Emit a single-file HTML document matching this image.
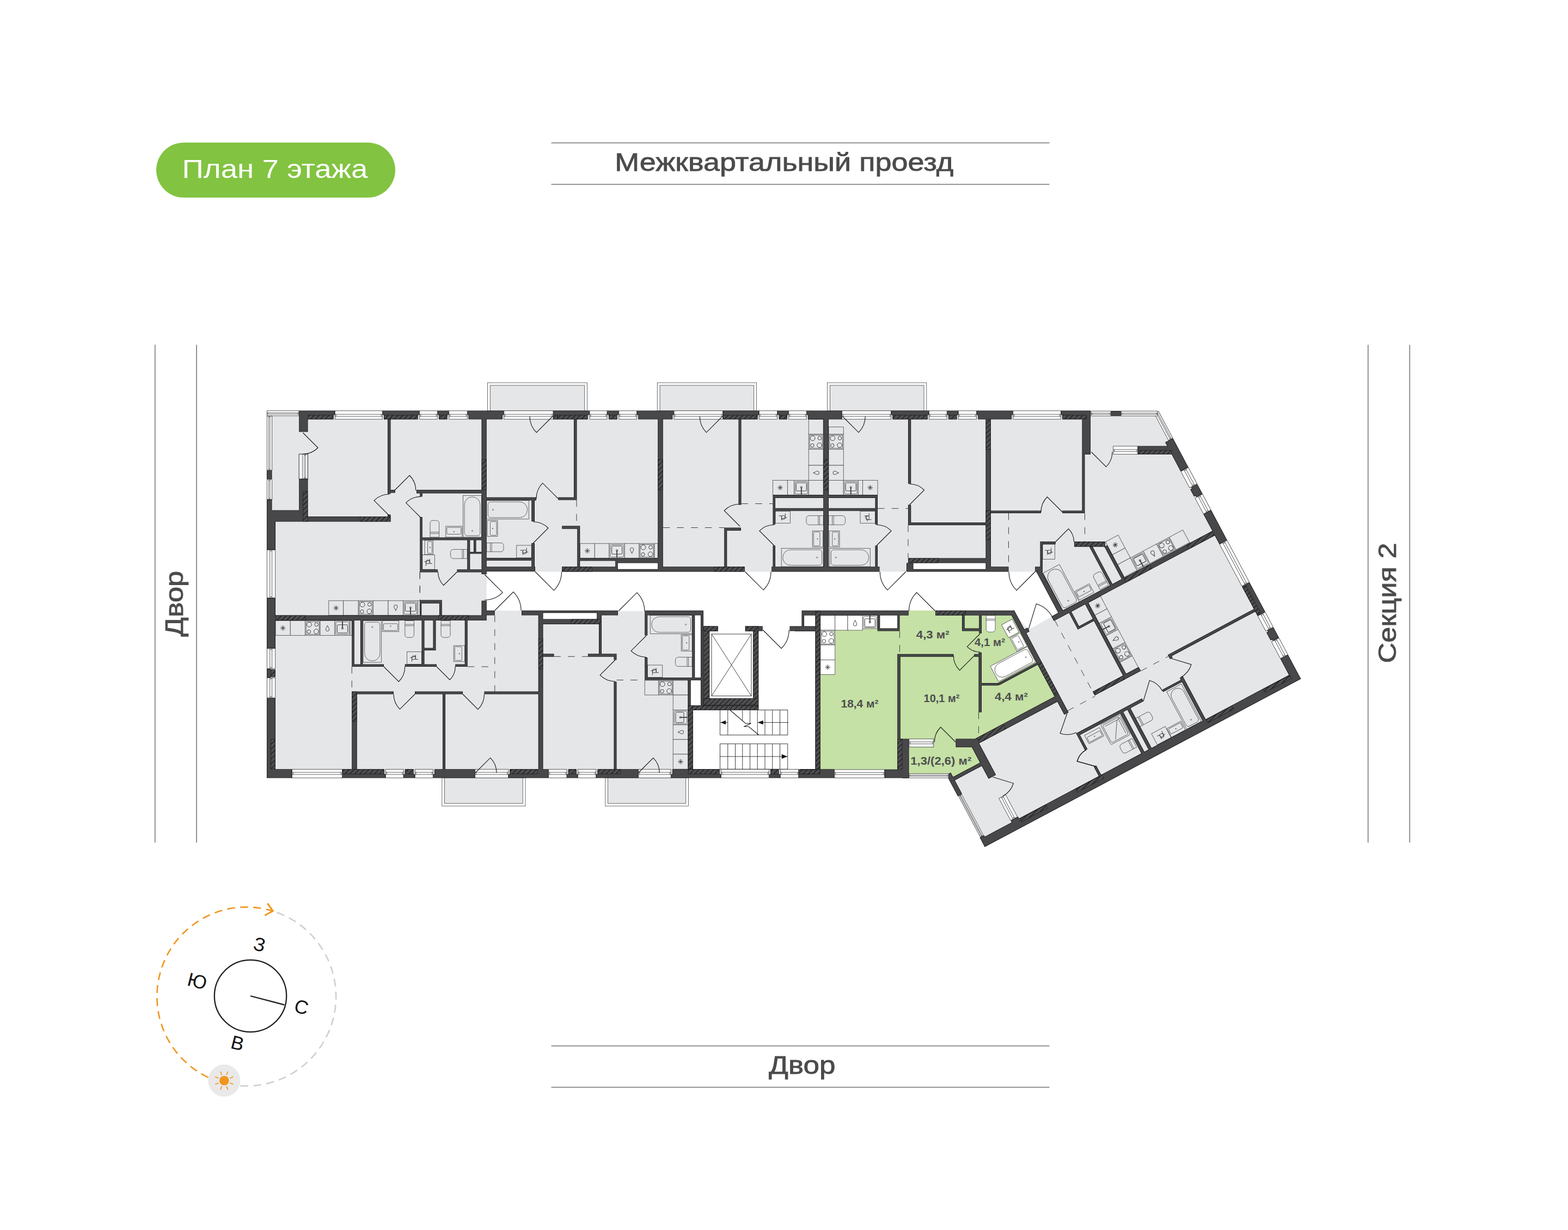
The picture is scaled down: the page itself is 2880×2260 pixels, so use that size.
<!DOCTYPE html>
<html lang="ru"><head><meta charset="utf-8"><title>План 7 этажа</title>
<style>html,body{margin:0;padding:0;background:#fff}body{width:2880px;height:2260px;overflow:hidden;font-family:"Liberation Sans",sans-serif}svg{display:block}text{font-family:"Liberation Sans",sans-serif}.lbl{fill:#4b4b4d;stroke:#4b4b4d;stroke-width:.8px;font-size:46px}.ln{stroke:#929292;stroke-width:2;fill:none}.w{fill:#48484a}.h{fill:url(#hp);stroke:#1c1c1e;stroke-width:.7}.r{fill:#e5e6e8}.g{fill:#c5e1a5}.wh{fill:#fff}.hw{fill:url(#hpw);stroke:#1c1c1e;stroke-width:.7}.wn2{fill:#fff;stroke:#5c5c5e;stroke-width:.9}.t{fill:none;stroke:#161618;stroke-width:1.1}.fx{fill:none;stroke:#48484a;stroke-width:.8}.fd{fill:#48484a}.sy{fill:none;stroke:#2e2e30;stroke-width:.9}.fxw{fill:#fff;stroke:#48484a;stroke-width:.8}.fxf{fill:#e5e6e8;stroke:#48484a;stroke-width:.8}.wn{fill:#fff;stroke:#2e2e30;stroke-width:1}.wl{fill:none;stroke:#2c2c2e;stroke-width:.75}.wo{fill:#fff;stroke:#2c2c2e;stroke-width:.75}.st{fill:none;stroke:#2a2a2c;stroke-width:.9}.ab{fill:#111;stroke:none}.ds{fill:none;stroke:#3c3c3e;stroke-width:1;stroke-dasharray:12.5 13.2}.ar{fill:#4d4d4f;font-size:20px;font-weight:bold}.cp{fill:#111;font-size:35px}</style></head><body>
<svg width="2880" height="2260" viewBox="0 0 2880 2260">
<defs><pattern id="hp" width="6.4" height="6.4" patternUnits="userSpaceOnUse" patternTransform="rotate(-45)"><rect width="6.4" height="6.4" fill="#4e4e50"/><rect width="6.4" height="1.05" fill="#0e0e10"/></pattern><pattern id="hpw" width="6.4" height="6.4" patternUnits="userSpaceOnUse" patternTransform="rotate(-17)"><rect width="6.4" height="6.4" fill="#4e4e50"/><rect width="6.4" height="1.05" fill="#0e0e10"/></pattern></defs>
<g id="L-fill">
<path class="r" d="M490 754.5L2128.75 754.5L2389.46 1247.48L1808.75 1556.25L1738.33 1423.81L1741 1429.5L490 1429.5Z"/>
<rect class="wn2" x="895.5" y="703.2" width="183" height="51.8"/>
<rect class="fxf" x="900.3" y="708" width="173.4" height="47"/>
<rect class="wn2" x="1207.3" y="703.2" width="182.2" height="51.8"/>
<rect class="fxf" x="1212.1" y="708" width="172.6" height="47"/>
<rect class="wn2" x="1519.6" y="703.2" width="182.2" height="51.8"/>
<rect class="fxf" x="1524.4" y="708" width="172.6" height="47"/>
<rect class="wn2" x="811.8" y="1429" width="153.2" height="52"/>
<rect class="fxf" x="816.6" y="1429" width="143.6" height="47.2"/>
<rect class="wn2" x="1111.8" y="1429" width="152.7" height="52"/>
<rect class="fxf" x="1116.6" y="1429" width="143.1" height="47.2"/>
</g>
<g id="L-white">
<path class="wh" d="M893.75 1050.5L1901.5 1050.5L1950.83 1120.55L1932.34 1132.64L1888.81 1157.26L1862.82 1125.44L893.75 1121.75Z"/>
<rect class="wh" x="1134.75" y="1035" width="73.5" height="10.75"/>
<rect class="wh" x="1677.5" y="1035" width="133" height="10.75"/>
<rect class="wh" x="1276.25" y="1121.75" width="221.25" height="291.5"/>
<rect class="wh" x="1263.75" y="1249.5" width="12.5" height="163.75"/>
<rect class="wh" x="997" y="1126.25" width="99.25" height="11.25"/>
<rect class="wh" x="1477" y="1130.75" width="20.5" height="20"/>
</g>
<g id="L-green">
<path class="g" d="M1506.75 1130.75L1668.75 1130.75L1668.75 1121.75L1718.25 1121.75L1718.25 1130.75L1859.24 1125.08L1943.27 1283.13L1788.76 1365.28L1807.07 1399.72L1747.03 1431.64L1743.75 1426.25L1669.5 1426.25L1669.5 1413.75L1506.75 1413.75Z"/>
<rect class="wh" x="1616.25" y="1130.75" width="32" height="23.75"/>
</g>
<g id="L-fix">
<rect class="fx" x="850.5" y="910.5" width="34" height="76.5"/><path class="fx" d="M867.2 913.1H867.8A14.1 14.1 0 0 1 881.9 927.2V979.4A5 5 0 0 1 876.9 984.4H858.1A5 5 0 0 1 853.1 979.4V927.2A14.1 14.1 0 0 1 867.2 913.1Z"/><circle class="fx" cx="867.5" cy="975.4" r="1"/>
<path class="fx" d="M794.95 956.25H801.55A4.95 4.95 0 0 1 806.5 961.2V986.9A0.1 0.1 0 0 1 806.4 987H790.1A0.1 0.1 0 0 1 790 986.9V961.2A4.95 4.95 0 0 1 794.95 956.25Z"/><path class="fx" d="M790 977.77H806.5M790 980.27H806.5"/>
<rect class="fx" x="818.75" y="967" width="30" height="20"/><rect class="fx" x="820.75" y="969" width="26" height="12.5" rx="1.2"/><circle class="fd" cx="833.75" cy="977" r="1"/>
<rect class="fx" x="780" y="993" width="15.5" height="25.75"/><rect class="fx" x="785.5" y="995" width="8" height="21.75" rx="1.2"/><circle class="fd" cx="790" cy="1005.88" r="1"/>
<rect class="fx" x="775.75" y="1019.5" width="22.5" height="26.75"/><g transform="translate(787 1032.88) rotate(180)"><circle class="sy" r="3.6" cx="1" cy="0.5"/><path class="sy" d="M-7 -2.5H-2.2V6M-2.6 3L7.5 0.6M4.6 -7V1.5"/></g>
<path class="fx" d="M832.52 1009.5H858.15A0.1 0.1 0 0 1 858.25 1009.6V1026.15A0.1 0.1 0 0 1 858.15 1026.25H832.52A5.02 5.02 0 0 1 827.5 1021.23V1014.52A5.02 5.02 0 0 1 832.52 1009.5Z"/><path class="fx" d="M849.02 1009.5V1026.25M851.52 1009.5V1026.25"/>
<rect class="fx" x="893.75" y="919.5" width="77.5" height="34.25"/><path class="fx" d="M901.35 922.1H954.42A14.22 14.22 0 0 1 968.65 936.33V936.92A14.22 14.22 0 0 1 954.42 951.15H901.35A5 5 0 0 1 896.35 946.15V927.1A5 5 0 0 1 901.35 922.1Z"/><circle class="fx" cx="905.35" cy="936.62" r="1"/>
<rect class="fx" x="895" y="956.25" width="19" height="29.25"/><rect class="fx" x="900.5" y="958.25" width="11.5" height="25.25" rx="1.2"/><circle class="fd" cx="905" cy="970.88" r="1"/>
<path class="fx" d="M893.85 997.5H920.12A4.88 4.88 0 0 1 925 1002.38V1008.88A4.88 4.88 0 0 1 920.12 1013.75H893.85A0.1 0.1 0 0 1 893.75 1013.65V997.6A0.1 0.1 0 0 1 893.85 997.5Z"/><path class="fx" d="M903.12 997.5V1013.75M900.62 997.5V1013.75"/>
<rect class="fx" x="948.75" y="1002" width="27.5" height="23"/><g transform="translate(962.5 1013.5) rotate(0)"><circle class="sy" r="3.6" cx="1" cy="0.5"/><path class="sy" d="M-7 -2.5H-2.2V6M-2.6 3L7.5 0.6M4.6 -7V1.5"/></g>
<rect class="fxf" x="1065.25" y="998.75" width="27" height="26.75"/><path class="sy" d="M1073.95 1012.12L1083.55 1012.12M1075.36 1008.73L1082.14 1015.52M1078.75 1007.33L1078.75 1016.92M1082.14 1008.73L1075.36 1015.52"/>
<rect class="fxf" x="1092.25" y="998.75" width="26.75" height="26.75"/>
<rect class="fxf" x="1119" y="998.75" width="28.25" height="26.75"/><rect class="fx" x="1121" y="1000.75" width="24.25" height="22.75" rx="1.5"/><g transform="translate(1133.12 1012.12) rotate(0)"><rect class="sy" x="-9.5" y="-9" width="19" height="15" rx="1.5"/><path d="M0 -0.5V12.5" stroke="#3a3a3c" stroke-width="1.8" fill="none"/><circle class="sy" cx="0" cy="-0.5" r="1.5"/></g>
<rect class="fxf" x="1147.25" y="998.75" width="26.75" height="26.75"/><g transform="translate(1160.62 1012.12) rotate(0)"><path class="sy" d="M0 5C-1.2 1 -3.2 -0.5 -3.2 -2.6A3.2 3 0 0 1 3.2 -2.6C3.2 -0.5 1.2 1 0 5Z"/></g>
<rect class="fxf" x="1174" y="998.75" width="28" height="26.75"/><rect class="fx" x="1175.8" y="1000.55" width="24.4" height="23.15"/><circle class="sy" cx="1181.57" cy="1005.78" r="4.4"/><circle class="sy" cx="1195.05" cy="1005.59" r="3.3"/><circle class="sy" cx="1180.95" cy="1018.66" r="3.2"/><circle class="sy" cx="1194.64" cy="1018.27" r="4.3"/>
<rect class="fxf" x="1202" y="998.75" width="6.25" height="26.75"/>
<rect class="fxf" x="1485.25" y="770.5" width="27" height="27.5"/>
<rect class="fxf" x="1485.25" y="798" width="27" height="27.5"/><rect class="fx" x="1487.05" y="799.8" width="23.4" height="23.9"/><circle class="sy" cx="1492.55" cy="805.23" r="4.4"/><circle class="sy" cx="1505.55" cy="805.03" r="3.3"/><circle class="sy" cx="1491.95" cy="818.47" r="3.2"/><circle class="sy" cx="1505.15" cy="818.06" r="4.3"/>
<rect class="fxf" x="1485.25" y="825.5" width="27" height="29.5"/>
<rect class="fxf" x="1485.25" y="855" width="27" height="27.5"/><g transform="translate(1498.75 868.75) rotate(90)"><path class="sy" d="M0 5C-1.2 1 -3.2 -0.5 -3.2 -2.6A3.2 3 0 0 1 3.2 -2.6C3.2 -0.5 1.2 1 0 5Z"/></g>
<rect class="fxf" x="1419.5" y="882.5" width="27" height="27"/><path class="sy" d="M1428.2 896L1437.8 896M1429.61 892.61L1436.39 899.39M1433 891.2L1433 900.8M1436.39 892.61L1429.61 899.39"/>
<rect class="fxf" x="1446.5" y="882.5" width="12" height="27"/>
<rect class="fxf" x="1458.5" y="882.5" width="26.75" height="27"/><rect class="fx" x="1460.5" y="884.5" width="22.75" height="23" rx="1.5"/><g transform="translate(1471.88 896) rotate(0)"><rect class="sy" x="-9.5" y="-9" width="19" height="15" rx="1.5"/><path d="M0 -0.5V12.5" stroke="#3a3a3c" stroke-width="1.8" fill="none"/><circle class="sy" cx="0" cy="-0.5" r="1.5"/></g>
<rect class="fxf" x="1485.25" y="882.5" width="27" height="27"/>
<rect class="fx" x="1424" y="939.25" width="27.5" height="22"/><g transform="translate(1437.75 950.25) rotate(0)"><circle class="sy" r="3.6" cx="1" cy="0.5"/><path class="sy" d="M-7 -2.5H-2.2V6M-2.6 3L7.5 0.6M4.6 -7V1.5"/></g>
<path class="fx" d="M1486.03 947.5H1512.15A0.1 0.1 0 0 1 1512.25 947.6V964.15A0.1 0.1 0 0 1 1512.15 964.25H1486.03A5.02 5.02 0 0 1 1481 959.23V952.52A5.02 5.02 0 0 1 1486.03 947.5Z"/><path class="fx" d="M1502.88 947.5V964.25M1505.38 947.5V964.25"/>
<rect class="fx" x="1492.25" y="975.5" width="19.25" height="29.5"/><rect class="fx" x="1494.25" y="977.5" width="11.75" height="25.5" rx="1.2"/><circle class="fd" cx="1501.5" cy="990.25" r="1"/>
<rect class="fx" x="1435.25" y="1007.5" width="77" height="33.75"/><path class="fx" d="M1451.83 1010.1H1504.65A5 5 0 0 1 1509.65 1015.1V1033.65A5 5 0 0 1 1504.65 1038.65H1451.83A13.98 13.98 0 0 1 1437.85 1024.67V1024.08A13.98 13.98 0 0 1 1451.83 1010.1Z"/><circle class="fx" cx="1500.65" cy="1024.38" r="1"/>
<rect class="fxf" x="1522" y="784.5" width="27.25" height="13.5"/>
<rect class="fxf" x="1522" y="798" width="27.25" height="27.5"/><rect class="fx" x="1523.8" y="799.8" width="23.65" height="23.9"/><circle class="sy" cx="1529.37" cy="805.23" r="4.4"/><circle class="sy" cx="1542.49" cy="805.03" r="3.3"/><circle class="sy" cx="1528.76" cy="818.47" r="3.2"/><circle class="sy" cx="1542.08" cy="818.06" r="4.3"/>
<rect class="fxf" x="1522" y="825.5" width="27.25" height="29.5"/>
<rect class="fxf" x="1522" y="855" width="27.25" height="27.5"/><g transform="translate(1535.62 868.75) rotate(-90)"><path class="sy" d="M0 5C-1.2 1 -3.2 -0.5 -3.2 -2.6A3.2 3 0 0 1 3.2 -2.6C3.2 -0.5 1.2 1 0 5Z"/></g>
<rect class="fxf" x="1522" y="882.5" width="27.25" height="27"/>
<rect class="fxf" x="1549.25" y="882.5" width="27" height="27"/><rect class="fx" x="1551.25" y="884.5" width="23" height="23" rx="1.5"/><g transform="translate(1562.75 896) rotate(0)"><rect class="sy" x="-9.5" y="-9" width="19" height="15" rx="1.5"/><path d="M0 -0.5V12.5" stroke="#3a3a3c" stroke-width="1.8" fill="none"/><circle class="sy" cx="0" cy="-0.5" r="1.5"/></g>
<rect class="fxf" x="1576.25" y="882.5" width="8.25" height="27"/>
<rect class="fxf" x="1584.5" y="882.5" width="27.5" height="27"/><path class="sy" d="M1593.45 896L1603.05 896M1594.86 892.61L1601.64 899.39M1598.25 891.2L1598.25 900.8M1601.64 892.61L1594.86 899.39"/>
<rect class="fx" x="1580" y="939.25" width="27.5" height="22"/><g transform="translate(1593.75 950.25) rotate(90)"><circle class="sy" r="3.6" cx="1" cy="0.5"/><path class="sy" d="M-7 -2.5H-2.2V6M-2.6 3L7.5 0.6M4.6 -7V1.5"/></g>
<path class="fx" d="M1522.1 947.5H1547.47A5.02 5.02 0 0 1 1552.5 952.52V959.23A5.02 5.02 0 0 1 1547.47 964.25H1522.1A0.1 0.1 0 0 1 1522 964.15V947.6A0.1 0.1 0 0 1 1522.1 947.5Z"/><path class="fx" d="M1531.15 947.5V964.25M1528.65 947.5V964.25"/>
<rect class="fx" x="1523.25" y="975.5" width="18.75" height="29.5"/><rect class="fx" x="1528.75" y="977.5" width="11.25" height="25.5" rx="1.2"/><circle class="fd" cx="1533.25" cy="990.25" r="1"/>
<rect class="fx" x="1523.75" y="1007.5" width="74.5" height="33.75"/><path class="fx" d="M1531.35 1010.1H1581.67A13.98 13.98 0 0 1 1595.65 1024.08V1024.67A13.98 13.98 0 0 1 1581.67 1038.65H1531.35A5 5 0 0 1 1526.35 1033.65V1015.1A5 5 0 0 1 1531.35 1010.1Z"/><circle class="fx" cx="1535.35" cy="1024.38" r="1"/>
<rect class="fx" x="1915" y="1000" width="22.5" height="27.5"/><g transform="translate(1926.25 1013.75) rotate(0)"><circle class="sy" r="3.6" cx="1" cy="0.5"/><path class="sy" d="M-7 -2.5H-2.2V6M-2.6 3L7.5 0.6M4.6 -7V1.5"/></g>
<rect class="fxf" x="603.75" y="1103.75" width="27" height="26.75"/><path class="sy" d="M612.45 1117.12L622.05 1117.12M613.86 1113.73L620.64 1120.52M617.25 1112.33L617.25 1121.92M620.64 1113.73L613.86 1120.52"/>
<rect class="fxf" x="630.75" y="1103.75" width="27.5" height="26.75"/>
<rect class="fxf" x="658.25" y="1103.75" width="27.25" height="26.75"/><rect class="fx" x="660.05" y="1105.55" width="23.65" height="23.15"/><circle class="sy" cx="665.62" cy="1110.78" r="4.4"/><circle class="sy" cx="678.74" cy="1110.59" r="3.3"/><circle class="sy" cx="665.01" cy="1123.66" r="3.2"/><circle class="sy" cx="678.33" cy="1123.27" r="4.3"/>
<rect class="fxf" x="685.5" y="1103.75" width="27.5" height="26.75"/>
<rect class="fxf" x="713" y="1103.75" width="27.5" height="26.75"/><g transform="translate(726.75 1117.12) rotate(0)"><path class="sy" d="M0 5C-1.2 1 -3.2 -0.5 -3.2 -2.6A3.2 3 0 0 1 3.2 -2.6C3.2 -0.5 1.2 1 0 5Z"/></g>
<rect class="fxf" x="740.5" y="1103.75" width="27" height="26.75"/><rect class="fx" x="742.5" y="1105.75" width="23" height="22.75" rx="1.5"/><g transform="translate(754 1117.12) rotate(0)"><rect class="sy" x="-9.5" y="-9" width="19" height="15" rx="1.5"/><path d="M0 -0.5V12.5" stroke="#3a3a3c" stroke-width="1.8" fill="none"/><circle class="sy" cx="0" cy="-0.5" r="1.5"/></g>
<rect class="fxf" x="767.5" y="1103.75" width="3.75" height="26.75"/>
<rect class="fxf" x="506" y="1140.5" width="27.25" height="27"/><path class="sy" d="M514.83 1154L524.42 1154M516.23 1150.61L523.02 1157.39M519.62 1149.2L519.62 1158.8M523.02 1150.61L516.23 1157.39"/>
<rect class="fxf" x="533.25" y="1140.5" width="27.25" height="27"/>
<rect class="fxf" x="560.5" y="1140.5" width="27.5" height="27"/><rect class="fx" x="562.3" y="1142.3" width="23.9" height="23.4"/><circle class="sy" cx="567.94" cy="1147.6" r="4.4"/><circle class="sy" cx="581.18" cy="1147.4" r="3.3"/><circle class="sy" cx="567.32" cy="1160.6" r="3.2"/><circle class="sy" cx="580.77" cy="1160.2" r="4.3"/>
<rect class="fxf" x="588" y="1140.5" width="27" height="27"/><g transform="translate(601.5 1154) rotate(180)"><path class="sy" d="M0 5C-1.2 1 -3.2 -0.5 -3.2 -2.6A3.2 3 0 0 1 3.2 -2.6C3.2 -0.5 1.2 1 0 5Z"/></g>
<rect class="fxf" x="615" y="1140.5" width="28" height="27"/><rect class="fx" x="617" y="1142.5" width="24" height="23" rx="1.5"/><g transform="translate(629 1154) rotate(180)"><rect class="sy" x="-9.5" y="-9" width="19" height="15" rx="1.5"/><path d="M0 -0.5V12.5" stroke="#3a3a3c" stroke-width="1.8" fill="none"/><circle class="sy" cx="0" cy="-0.5" r="1.5"/></g>
<rect class="fxf" x="643" y="1140.5" width="3.25" height="27"/>
<rect class="fx" x="667" y="1140.5" width="33.5" height="76.5"/><path class="fx" d="M674.6 1143.1H692.9A5 5 0 0 1 697.9 1148.1V1200.55A13.85 13.85 0 0 1 684.05 1214.4H683.45A13.85 13.85 0 0 1 669.6 1200.55V1148.1A5 5 0 0 1 674.6 1143.1Z"/><circle class="fx" cx="683.75" cy="1152.1" r="1"/>
<rect class="fx" x="702.5" y="1140.5" width="30" height="20"/><rect class="fx" x="704.5" y="1146" width="26" height="12.5" rx="1.2"/><circle class="fd" cx="717.5" cy="1150.5" r="1"/>
<path class="fx" d="M743.85 1140.5H760.4A0.1 0.1 0 0 1 760.5 1140.6V1166.22A5.02 5.02 0 0 1 755.48 1171.25H748.77A5.02 5.02 0 0 1 743.75 1166.22V1140.6A0.1 0.1 0 0 1 743.85 1140.5Z"/><path class="fx" d="M743.75 1149.72H760.5M743.75 1147.22H760.5"/>
<rect class="fx" x="747.5" y="1197.5" width="27" height="23"/><g transform="translate(761 1209) rotate(180)"><circle class="sy" r="3.6" cx="1" cy="0.5"/><path class="sy" d="M-7 -2.5H-2.2V6M-2.6 3L7.5 0.6M4.6 -7V1.5"/></g>
<path class="fx" d="M810.1 1140.5H826.9A0.1 0.1 0 0 1 827 1140.6V1166.15A5.1 5.1 0 0 1 821.9 1171.25H815.1A5.1 5.1 0 0 1 810 1166.15V1140.6A0.1 0.1 0 0 1 810.1 1140.5Z"/><path class="fx" d="M810 1149.72H827M810 1147.22H827"/>
<rect class="fx" x="833.25" y="1186.25" width="20.5" height="29.25"/><rect class="fx" x="835.25" y="1188.25" width="13" height="25.25" rx="1.2"/><circle class="fd" cx="843.75" cy="1200.88" r="1"/>
<rect class="fx" x="1194.25" y="1130.5" width="77" height="34"/><path class="fx" d="M1210.95 1133.1H1263.65A5 5 0 0 1 1268.65 1138.1V1156.9A5 5 0 0 1 1263.65 1161.9H1210.95A14.1 14.1 0 0 1 1196.85 1147.8V1147.2A14.1 14.1 0 0 1 1210.95 1133.1Z"/><circle class="fx" cx="1259.65" cy="1147.5" r="1"/>
<rect class="fx" x="1251.25" y="1166.25" width="20" height="30"/><rect class="fx" x="1253.25" y="1168.25" width="12.5" height="26" rx="1.2"/><circle class="fd" cx="1261.25" cy="1181.25" r="1"/>
<path class="fx" d="M1245.6 1207.5H1271.15A0.1 0.1 0 0 1 1271.25 1207.6V1224.4A0.1 0.1 0 0 1 1271.15 1224.5H1245.6A5.1 5.1 0 0 1 1240.5 1219.4V1212.6A5.1 5.1 0 0 1 1245.6 1207.5Z"/><path class="fx" d="M1262.03 1207.5V1224.5M1264.53 1207.5V1224.5"/>
<rect class="fx" x="1189.25" y="1222" width="27.5" height="22.5"/><g transform="translate(1203 1233.25) rotate(180)"><circle class="sy" r="3.6" cx="1" cy="0.5"/><path class="sy" d="M-7 -2.5H-2.2V6M-2.6 3L7.5 0.6M4.6 -7V1.5"/></g>
<rect class="fxf" x="1184.25" y="1250" width="25.25" height="27"/>
<rect class="fxf" x="1209.5" y="1250" width="26.75" height="27"/><rect class="fx" x="1211.3" y="1251.8" width="23.15" height="23.4"/><circle class="sy" cx="1216.73" cy="1257.1" r="4.4"/><circle class="sy" cx="1229.61" cy="1256.9" r="3.3"/><circle class="sy" cx="1216.14" cy="1270.1" r="3.2"/><circle class="sy" cx="1229.22" cy="1269.7" r="4.3"/>
<rect class="fxf" x="1236.25" y="1250" width="27.5" height="27"/>
<rect class="fxf" x="1236.25" y="1277" width="27.5" height="27.5"/>
<rect class="fxf" x="1236.25" y="1304.5" width="27.5" height="27.25"/><rect class="fx" x="1238.25" y="1306.5" width="23.5" height="23.25" rx="1.5"/><g transform="translate(1250 1318.12) rotate(270)"><rect class="sy" x="-9.5" y="-9" width="19" height="15" rx="1.5"/><path d="M0 -0.5V12.5" stroke="#3a3a3c" stroke-width="1.8" fill="none"/><circle class="sy" cx="0" cy="-0.5" r="1.5"/></g>
<rect class="fxf" x="1236.25" y="1331.75" width="27.5" height="27"/><g transform="translate(1250 1345.25) rotate(90)"><path class="sy" d="M0 5C-1.2 1 -3.2 -0.5 -3.2 -2.6A3.2 3 0 0 1 3.2 -2.6C3.2 -0.5 1.2 1 0 5Z"/></g>
<rect class="fxf" x="1236.25" y="1358.75" width="27.5" height="27"/>
<rect class="fxf" x="1236.25" y="1385.75" width="27.5" height="27.5"/><path class="sy" d="M1245.2 1399.5L1254.8 1399.5M1246.61 1396.11L1253.39 1402.89M1250 1394.7L1250 1404.3M1253.39 1396.11L1246.61 1402.89"/>
<rect class="fxw" x="1506.75" y="1130.75" width="27" height="27.25"/>
<rect class="fxw" x="1533.75" y="1130.75" width="23.25" height="27.25"/>
<rect class="fxw" x="1557" y="1130.75" width="27.25" height="27.25"/><g transform="translate(1570.62 1144.38) rotate(180)"><path class="sy" d="M0 5C-1.2 1 -3.2 -0.5 -3.2 -2.6A3.2 3 0 0 1 3.2 -2.6C3.2 -0.5 1.2 1 0 5Z"/></g>
<rect class="fxw" x="1584.25" y="1130.75" width="27" height="24.25"/><rect class="fx" x="1586.25" y="1132.75" width="23" height="20.25" rx="1.5"/><g transform="translate(1597.75 1142.88) rotate(180)"><rect class="sy" x="-9.5" y="-9" width="19" height="15" rx="1.5"/><path d="M0 -0.5V12.5" stroke="#3a3a3c" stroke-width="1.8" fill="none"/><circle class="sy" cx="0" cy="-0.5" r="1.5"/></g>
<rect class="fxw" x="1506.75" y="1158" width="27" height="27"/><rect class="fx" x="1508.55" y="1159.8" width="23.4" height="23.4"/><circle class="sy" cx="1514.05" cy="1165.1" r="4.4"/><circle class="sy" cx="1527.05" cy="1164.9" r="3.3"/><circle class="sy" cx="1513.45" cy="1178.1" r="3.2"/><circle class="sy" cx="1526.65" cy="1177.7" r="4.3"/>
<rect class="fxw" x="1506.75" y="1185" width="27" height="27.5"/>
<rect class="fxw" x="1506.75" y="1212.5" width="27" height="27"/><path class="sy" d="M1515.45 1226L1525.05 1226M1516.86 1222.61L1523.64 1229.39M1520.25 1221.2L1520.25 1230.8M1523.64 1222.61L1516.86 1229.39"/>
<path class="fxw" d="M1811.35 1130.75H1827.9A0.1 0.1 0 0 1 1828 1130.85V1156.22A5.02 5.02 0 0 1 1822.97 1161.25H1816.28A5.02 5.02 0 0 1 1811.25 1156.22V1130.85A0.1 0.1 0 0 1 1811.35 1130.75Z"/><path class="fx" d="M1811.25 1139.9H1828M1811.25 1137.4H1828"/>
<g transform="translate(1808.75 1556.25) rotate(-28)"><rect class="fx" x="330.7" y="-394" width="34" height="78"/><path class="fx" d="M347.4 -391.4H348A14.1 14.1 0 0 1 362.1 -377.3V-323.6A5 5 0 0 1 357.1 -318.6H338.3A5 5 0 0 1 333.3 -323.6V-377.3A14.1 14.1 0 0 1 347.4 -391.4Z"/><circle class="fx" cx="347.7" cy="-327.6" r="1"/></g>
<g transform="translate(1808.75 1556.25) rotate(-28)"><rect class="fx" x="366.5" y="-337" width="30" height="18"/><rect class="fx" x="368.5" y="-335" width="26" height="10.5" rx="1.2"/><circle class="fd" cx="381.5" cy="-329" r="1"/></g>
<g transform="translate(1808.75 1556.25) rotate(-28)"><path class="fx" d="M414.25 -348H421.25A5.25 5.25 0 0 1 426.5 -342.75V-318.1A0.1 0.1 0 0 1 426.4 -318H409.1A0.1 0.1 0 0 1 409 -318.1V-342.75A5.25 5.25 0 0 1 414.25 -348Z"/><path class="fx" d="M409 -327H426.5M409 -324.5H426.5"/></g>
<g transform="translate(1808.75 1556.25) rotate(-28)"><rect class="fxf" x="459" y="-391" width="26.5" height="27"/><path class="sy" d="M467.45 -377.5L477.05 -377.5M468.86 -380.89L475.64 -374.11M472.25 -382.3L472.25 -372.7M475.64 -380.89L468.86 -374.11"/></g>
<g transform="translate(1808.75 1556.25) rotate(-28)"><rect class="fxf" x="459" y="-364" width="26.5" height="20.5"/></g>
<g transform="translate(1808.75 1556.25) rotate(-28)"><rect class="fxf" x="459" y="-343.5" width="26.5" height="26"/></g>
<g transform="translate(1808.75 1556.25) rotate(-28)"><rect class="fxf" x="485.5" y="-343.5" width="26.9" height="26"/><rect class="fx" x="487.5" y="-341.5" width="22.9" height="22" rx="1.5"/><g transform="translate(498.95 -330.5) rotate(0)"><rect class="sy" x="-9.5" y="-9" width="19" height="15" rx="1.5"/><path d="M0 -0.5V12.5" stroke="#3a3a3c" stroke-width="1.8" fill="none"/><circle class="sy" cx="0" cy="-0.5" r="1.5"/></g></g>
<g transform="translate(1808.75 1556.25) rotate(-28)"><rect class="fxf" x="512.4" y="-343.5" width="27.6" height="26"/><g transform="translate(526.2 -330.5) rotate(0)"><path class="sy" d="M0 5C-1.2 1 -3.2 -0.5 -3.2 -2.6A3.2 3 0 0 1 3.2 -2.6C3.2 -0.5 1.2 1 0 5Z"/></g></g>
<g transform="translate(1808.75 1556.25) rotate(-28)"><rect class="fxf" x="540" y="-343.5" width="26.5" height="26"/><rect class="fx" x="541.8" y="-341.7" width="22.9" height="22.4"/><circle class="sy" cx="547.16" cy="-336.66" r="4.4"/><circle class="sy" cx="559.92" cy="-336.86" r="3.3"/><circle class="sy" cx="546.58" cy="-324.14" r="3.2"/><circle class="sy" cx="559.53" cy="-324.53" r="4.3"/></g>
<g transform="translate(1808.75 1556.25) rotate(-28)"><rect class="fxf" x="566.5" y="-343.5" width="28.2" height="26"/></g>
<g transform="translate(1808.75 1556.25) rotate(-28)"><rect class="fxf" x="378.5" y="-307" width="25.5" height="26"/><path class="sy" d="M386.45 -294L396.05 -294M387.86 -297.39L394.64 -290.61M391.25 -298.8L391.25 -289.2M394.64 -297.39L387.86 -290.61"/></g>
<g transform="translate(1808.75 1556.25) rotate(-28)"><rect class="fxf" x="378.5" y="-281" width="25.5" height="17"/></g>
<g transform="translate(1808.75 1556.25) rotate(-28)"><rect class="fxf" x="378.5" y="-264" width="25.5" height="26"/><rect class="fx" x="380.5" y="-262" width="21.5" height="22" rx="1.5"/><g transform="translate(391.25 -251) rotate(90)"><rect class="sy" x="-9.5" y="-9" width="19" height="15" rx="1.5"/><path d="M0 -0.5V12.5" stroke="#3a3a3c" stroke-width="1.8" fill="none"/><circle class="sy" cx="0" cy="-0.5" r="1.5"/></g></g>
<g transform="translate(1808.75 1556.25) rotate(-28)"><rect class="fxf" x="378.5" y="-238" width="25.5" height="27"/><g transform="translate(391.25 -224.5) rotate(90)"><path class="sy" d="M0 5C-1.2 1 -3.2 -0.5 -3.2 -2.6A3.2 3 0 0 1 3.2 -2.6C3.2 -0.5 1.2 1 0 5Z"/></g></g>
<g transform="translate(1808.75 1556.25) rotate(-28)"><rect class="fxf" x="378.5" y="-211" width="25.5" height="28"/><rect class="fx" x="380.3" y="-209.2" width="21.9" height="24.4"/><circle class="sy" cx="385.39" cy="-203.64" r="4.4"/><circle class="sy" cx="397.67" cy="-203.84" r="3.3"/><circle class="sy" cx="384.83" cy="-190.16" r="3.2"/><circle class="sy" cx="397.29" cy="-190.57" r="4.3"/></g>
<g transform="translate(1808.75 1556.25) rotate(-28)"><rect class="fxf" x="378.5" y="-183" width="25.5" height="24"/></g>
<g transform="translate(1808.75 1556.25) rotate(-28)"><rect class="fx" x="258" y="-95" width="31" height="17.5"/><rect class="fx" x="260" y="-89.5" width="27" height="10" rx="1.2"/><circle class="fd" cx="273.5" cy="-85" r="1"/></g>
<g transform="translate(1808.75 1556.25) rotate(-28)"><rect class="fx" x="293" y="-98" width="40" height="41" rx="2"/><rect class="fx" x="295.5" y="-95.5" width="35" height="36" rx="3"/><path class="fx" d="M299 -92H327V-63M324 -92L305 -62"/><circle class="fx" cx="328" cy="-93" r="1"/></g>
<g transform="translate(1808.75 1556.25) rotate(-28)"><path class="fx" d="M310.4 -49H332.4A0.1 0.1 0 0 1 332.5 -48.9V-31.1A0.1 0.1 0 0 1 332.4 -31H310.4A5.4 5.4 0 0 1 305 -36.4V-43.6A5.4 5.4 0 0 1 310.4 -49Z"/><path class="fx" d="M324.25 -49V-31M326.75 -49V-31"/></g>
<g transform="translate(1808.75 1556.25) rotate(-28)"><rect class="fx" x="429" y="-95" width="30.5" height="78"/><path class="fx" d="M443.95 -92.4H444.55A12.35 12.35 0 0 1 456.9 -80.05V-24.6A5 5 0 0 1 451.9 -19.6H436.6A5 5 0 0 1 431.6 -24.6V-80.05A12.35 12.35 0 0 1 443.95 -92.4Z"/><circle class="fx" cx="444.25" cy="-28.6" r="1"/></g>
<g transform="translate(1808.75 1556.25) rotate(-28)"><rect class="fx" x="397.5" y="-35" width="29" height="18"/><rect class="fx" x="399.5" y="-33" width="25" height="10.5" rx="1.2"/><circle class="fd" cx="412" cy="-27" r="1"/></g>
<g transform="translate(1808.75 1556.25) rotate(-28)"><rect class="fx" x="368" y="-40" width="28.5" height="23"/><g transform="translate(382.25 -28.5) rotate(0)"><circle class="sy" r="3.6" cx="1" cy="0.5"/><path class="sy" d="M-7 -2.5H-2.2V6M-2.6 3L7.5 0.6M4.6 -7V1.5"/></g></g>
<g transform="translate(1808.75 1556.25) rotate(-28)"><path class="fx" d="M354.1 -78.5H378.9A5.1 5.1 0 0 1 384 -73.4V-66.6A5.1 5.1 0 0 1 378.9 -61.5H354.1A0.1 0.1 0 0 1 354 -61.6V-78.4A0.1 0.1 0 0 1 354.1 -78.5Z"/><path class="fx" d="M363 -78.5V-61.5M360.5 -78.5V-61.5"/></g>
<g transform="translate(1808.75 1556.25) rotate(-28)"><rect class="fxw" x="219" y="-346" width="22" height="27"/><g transform="translate(230 -332.5) rotate(180)"><circle class="sy" r="3.6" cx="1" cy="0.5"/><path class="sy" d="M-7 -2.5H-2.2V6M-2.6 3L7.5 0.6M4.6 -7V1.5"/></g></g>
<g transform="translate(1808.75 1556.25) rotate(-28)"><rect class="fxw" x="221" y="-317" width="21" height="27.5"/><rect class="fx" x="223" y="-315" width="13.5" height="23.5" rx="1.2"/><circle class="fd" cx="232" cy="-303.25" r="1"/></g>
<g transform="translate(1808.75 1556.25) rotate(-28)"><rect class="fxw" x="165" y="-288.5" width="77" height="32.2"/><path class="fx" d="M180.8 -285.9H234.4A5 5 0 0 1 239.4 -280.9V-263.9A5 5 0 0 1 234.4 -258.9H180.8A13.2 13.2 0 0 1 167.6 -272.1V-272.7A13.2 13.2 0 0 1 180.8 -285.9Z"/><circle class="fx" cx="230.4" cy="-272.4" r="1"/></g>
</g>
<path fill="#151517" fill-rule="evenodd" d="M702.49 762.51L704.99 762.51L704.99 770.51L711.99 770.51L711.99 907.5L717.5 907.51L717.51 905.51L725.76 905.5L725.76 899.99L717.51 899.99L717.51 770.51L767.5 770.51L767.51 762.51L770.51 762.5L770.51 754.5L702.5 754.49ZM615.01 762.51L615 754.49L549.25 754.49L549.24 793.5L565.51 793.51L565.51 770.51L612.5 770.51L612.51 762.51ZM489.99 880.51L499.51 880.5L499.5 864.24L489.99 864.25ZM565.51 880L549.24 880L549.24 937.49L499.51 937.49L499.51 918L489.99 918L490 1010.01L506.01 1010L506.01 958.51L717.51 958.5L717.5 945.49L711.99 945.49L711.99 948.99L565.51 948.99ZM771.24 912.51L775.76 912.51L775.76 906.51L884.49 906.51L884.49 987.49L775.76 987.49L775.76 950L771.24 949.99L771.24 1051.51L804.01 1051.5L804 1046.24L775.76 1046.24L775.76 992.51L858.24 992.51L858.24 1046.24L839.5 1046.24L839.5 1051.51L884.49 1051.51L884.5 1055.01L893.75 1055.01L893.76 1050.01L983.01 1050.01L983.01 1041.25L982.01 1041.24L982 997.99L976.24 998L976.24 1024.99L893.76 1024.99L893.76 919.51L976.24 919.51L976.24 958L982.01 958L982.01 919.51L985.01 919.5L985 913.74L893.76 913.74L893.76 770.51L923 770.51L923.01 762.51L925.51 762.5L925.51 754.49L858.49 754.5L858.49 762.5L860.49 762.51L860.49 770.51L884.49 770.51L884.49 899.99L765 899.99L764.99 906.5L771.24 906.51ZM884.49 1013.99L874.51 1013.99L874.51 992.51L884.49 992.51ZM884.49 1046.24L863.26 1046.24L863.26 1017.51L884.49 1017.51ZM893.76 1030.01L976.24 1030.01L976.24 1041.24L893.76 1041.24ZM863.26 1013.99L863.26 992.51L869.99 992.51L869.99 1013.99ZM811.76 1102.5L771.24 1102.49L771.24 1130.49L506.01 1130.49L506.01 1098.75L490 1098.74L489.99 1191.25L506.01 1191.25L506.01 1140.01L646.24 1140.01L646.24 1225.01L705 1225.01L705 1220.49L666.51 1220.49L666.51 1140.01L774.49 1140.01L774.49 1220.49L743.75 1220.49L743.74 1225L802 1225.01L802 1220.49L779.51 1220.49L779.51 1195.01L800.51 1195L800.51 1140.01L853.74 1140.01L853.74 1220.49L836.25 1220.49L836.24 1225L858.75 1225.01L858.76 1140.01L893.75 1140.01L893.76 1130.51L908.75 1130.51L908.76 1121.75L893.76 1121.74L893.76 1103.75L884.5 1103.74L884.49 1130.49L811.76 1130.49ZM774.26 1130.49L774.26 1108.76L806.99 1108.76L806.99 1130.49ZM661.99 1220.49L650.76 1220.49L650.76 1140.01L661.99 1140.01ZM795.49 1190.49L779.51 1190.49L779.51 1140.01L795.49 1140.01ZM506.01 1243.76L506.01 1229.99L497.01 1229.99L497 1228.74L489.99 1228.74L489.99 1245.01L497 1245.01L497.01 1243.76ZM723.01 1275.51L723 1270.49L646.24 1270.49L646.24 1413.24L628.74 1413.24L628.74 1422.49L626.24 1422.5L626.24 1429.51L708.01 1429.51L708.01 1422.5L705.76 1422.49L705.75 1413.24L655.76 1413.24L655.76 1275.51ZM489.99 1429.51L536.26 1429.5L536.25 1413.24L506.01 1413.24L506 1282.49L489.99 1282.5ZM759.51 1413.25L743.74 1413.24L743.74 1422.49L741.24 1422.5L741.24 1429.51L762.01 1429.51L762.01 1422.5L759.51 1422.49ZM803.49 762.51L806.24 762.51L806.25 770.51L821.5 770.51L821.51 762.51L824.51 762.5L824.51 754.5L803.5 754.49ZM1016.24 770.51L1053.99 770.51L1053.99 913.74L1025.25 913.74L1025.24 918.75L1059.5 918.76L1059.51 770.51L1079.51 770.51L1079.51 762.51L1082.76 762.5L1082.76 754.5L1016.25 754.49ZM1032.24 971.76L1060.24 971.76L1060.24 1041.24L1032.25 1041.24L1032.25 1050.51L1367.76 1050.5L1367.75 1041.24L1335.26 1041.24L1335.26 975.01L1361 975.01L1361 969.49L1330.24 969.5L1330.24 1041.24L1217.76 1041.24L1217.76 770.51L1235.26 770.51L1235.26 762.51L1237.76 762.5L1237.75 754.49L1169.74 754.5L1169.74 762.5L1172.24 762.51L1172.25 770.51L1208.24 770.51L1208.24 1025.49L1065.26 1025.49L1065.26 966.24L1032.25 966.24ZM1208.24 1045.74L1134.76 1045.74L1134.76 1034.51L1208.24 1034.51ZM1130.24 1030.51L1130.24 1041.24L1065.26 1041.24L1065.26 1030.51ZM958 1121.74L958 1130.51L988.74 1130.51L988.74 1270.49L889.5 1270.49L889.49 1275.5L988.74 1275.51L988.74 1413.24L936.25 1413.24L936.24 1422.49L933.74 1422.5L933.74 1429.5L1007.5 1429.51L1007.51 1413.24L997.51 1413.24L997.51 1206.76L1017.5 1206.76L1017.51 1201.25L997.51 1201.24L997.51 1147.01L1099.99 1147.01L1099.99 1201.24L1080 1201.24L1079.99 1206.75L1127.49 1206.76L1127.49 1212.51L1132.5 1212.51L1132.5 1201.24L1105.01 1201.24L1105.01 1130.51L1135 1130.51L1135.01 1121.75ZM997.51 1126.26L1096.24 1126.26L1096.24 1137.49L997.51 1137.49ZM761.99 1275.51L812.99 1275.51L812.99 1413.24L797.99 1413.24L797.99 1422.49L795.49 1422.5L795.49 1429.51L872.51 1429.51L872.5 1413.24L818.01 1413.24L818.01 1275.51L850 1275.51L850.01 1270.49L762 1270.49ZM1058.76 1413.25L1043.74 1413.24L1043.74 1422.49L1040.49 1422.5L1040.49 1429.51L1061.26 1429.51L1061.26 1422.5L1058.76 1422.49ZM1115.24 762.51L1118.24 762.51L1118.25 770.51L1133.5 770.51L1133.51 762.51L1136.51 762.5L1136.51 754.5L1115.25 754.49ZM1292.01 1121.75L1184.24 1121.75L1184.25 1167.51L1189.26 1167.5L1189.26 1130.51L1271.24 1130.51L1271.24 1244.99L1189.26 1244.99L1189.26 1208L1184.24 1208L1184.25 1249.51L1263.74 1249.51L1263.74 1413.24L1235 1413.24L1234.99 1422.49L1232.49 1422.5L1232.5 1429.51L1324.26 1429.5L1324.26 1422.5L1321.76 1422.49L1321.75 1413.24L1273.01 1413.24L1273.01 1305.01L1393.26 1305L1393.26 1159.51L1400.76 1159.51L1400.75 1150.49L1368.74 1150.5L1368.74 1160.01L1383.24 1160.01L1383.24 1282.99L1303.26 1282.99L1303.26 1160.01L1318.76 1160.01L1318.76 1150.5L1292.49 1150.49L1292.49 1296.24L1292.01 1296.24ZM1276.26 1244.99L1276.26 1130.51L1286.99 1130.51L1286.99 1244.99ZM1268.76 1296.24L1268.76 1250.01L1286.99 1250.01L1286.99 1296.24ZM1132.51 1252.49L1127.49 1252.5L1127.49 1413.24L1097.5 1413.24L1097.49 1422.49L1094.99 1422.5L1094.99 1429.5L1172.5 1429.51L1172.5 1413.24L1132.51 1413.24ZM1394 762.51L1394 754.49L1327.74 754.5L1327.75 770.51L1356.49 770.51L1356.5 927.51L1361.51 927.5L1361.51 770.51L1391.5 770.51L1391.51 762.51ZM1481.49 762.51L1483.99 762.51L1484 770.51L1512.24 770.51L1512.24 909.49L1419.5 909.49L1419.49 963.75L1424.01 963.75L1424.01 938.76L1512.24 938.76L1512.24 1041.24L1424.01 1041.24L1424.01 1002.5L1419.5 1002.49L1419.49 1041.24L1417.24 1041.25L1417.24 1050.5L1615.5 1050.51L1615.51 1041.25L1612.01 1041.24L1612 1002.49L1607.49 1002.5L1607.49 1041.24L1522.01 1041.24L1522.01 938.76L1607.49 938.76L1607.49 963.75L1612 963.76L1612.01 909.5L1522.01 909.49L1522.01 770.51L1546.51 770.51L1546.51 754.5L1481.5 754.49ZM1512.24 933.74L1424.01 933.74L1424.01 915.01L1512.24 915.01ZM1522.01 933.74L1522.01 915.01L1607.49 915.01L1607.49 933.74ZM1427.74 762.51L1430.74 762.51L1430.75 770.51L1445.75 770.51L1445.76 762.51L1448.51 762.5L1448.51 754.5L1427.75 754.49ZM1472.49 1121.74L1472.49 1150.49L1450.5 1150.49L1450.49 1159.5L1459.99 1159.51L1460 1160.01L1497.49 1160.01L1497.49 1413.24L1469.5 1413.24L1469.49 1413.74L1466.25 1413.74L1466.24 1429.5L1535 1429.51L1535.01 1422.5L1532.51 1422.49L1532.5 1413.24L1506.76 1413.24L1506.76 1130.76L1611.74 1130.76L1611.74 1159.51L1652.5 1159.51L1652.51 1130.76L1668.75 1130.76L1668.76 1121.75ZM1497.49 1130.76L1497.49 1150.49L1477.01 1150.49L1477.01 1130.76ZM1648.24 1130.76L1648.24 1154.49L1616.26 1154.49L1616.26 1130.76ZM1430.51 1413.25L1414.99 1413.24L1414.99 1422.49L1412.49 1422.5L1412.49 1429.51L1433.01 1429.51L1433.01 1422.5L1430.51 1422.49ZM1624.99 1429.51L1657.49 1429.51L1657.5 1430.01L1669.51 1430L1669.51 1357.5L1653.76 1357.49L1653.76 1206.76L1751.25 1206.76L1751.25 1201.74L1648.24 1201.75L1648.24 1413.74L1624.99 1413.74ZM1793.74 762.51L1796.24 762.51L1796.25 770.51L1810.49 770.51L1810.49 959.99L1673.26 959.99L1673.26 927.5L1668 927.49L1667.99 965L1810.49 965.01L1810.49 1025.49L1668 1025.49L1667.99 1034.49L1664.99 1034.5L1665 1050.51L1852.5 1050.51L1852.5 1041.24L1820.01 1041.24L1820.01 943.01L1912.01 943L1912 938.24L1820.01 938.24L1820.01 770.51L1858 770.51L1858.01 762.51L1860.51 762.5L1860.51 754.5L1793.75 754.49ZM1810.49 1034.51L1810.49 1045.74L1677.51 1045.74L1677.51 1034.51ZM1739.49 762.51L1741.99 762.51L1742 770.51L1757.5 770.51L1757.51 762.51L1760.01 762.5L1760.01 754.5L1739.5 754.49ZM1636.99 762.51L1639.49 762.51L1639.5 770.51L1667.99 770.51L1667.99 888.75L1673.25 888.76L1673.26 770.51L1703.75 770.51L1703.76 762.51L1706.26 762.5L1706.26 754.5L1637 754.49ZM1915 1050.51L1915.01 1000.01L1938.75 1000.01L1938.75 994.99L1910.49 994.99L1910.49 1041.24L1901.24 1041.25L1901.24 1050.5L1903.61 1050.51L1903.44 1050.61L1943.57 1126.09L1931.22 1132.67L1935.69 1141.07L1963.5 1126.28L1979.7 1156.74L2009.27 1141.02L2062.55 1241.21L2006.93 1270.79L2010.69 1277.87L2095.46 1232.79L2091.7 1225.72L2068.3 1238.15L1998.83 1107.49L2231.21 983.94L2239.75 1000L2253.89 992.48L2224.44 937.11L2210.31 944.63L2226.74 975.53L2065.44 1061.3L2033.75 1001.71L2030.01 1003.69L2030.01 994.99L1973.25 994.99L1973.25 1004.51L2002.9 1004.51L2001.26 1005.39L2038.58 1075.58L1951.98 1121.62L1914.17 1050.51ZM2007.15 1137.03L1982 1150.4L1967.93 1123.93L1993.07 1110.56ZM2028.44 1004.52L2060.12 1064.12L2043.37 1073.03L2006.93 1004.51ZM1718.24 1130.76L1766.99 1130.76L1766.99 1159.51L1798.24 1159.51L1798.25 1163.76L1803.01 1163.75L1803.01 1130.76L1857.72 1130.76L1903.81 1217.45L1833.22 1254.99L1803.01 1254.99L1803.01 1198.75L1797.5 1198.74L1797.49 1201.74L1789.49 1201.74L1789.49 1206.76L1797.49 1206.76L1797.49 1308.76L1803.01 1308.75L1803.01 1259.51L1834.25 1259.51L1834.26 1257.05L1835.31 1259L1905.93 1221.45L1936.91 1279.7L1790.61 1357.49L1755.49 1357.49L1755.49 1373.01L1784.93 1373.01L1799.93 1401.23L1750.51 1427.52L1746.28 1419.57L1738.32 1423.8L1759.22 1463.11L1767.18 1458.87L1753.8 1433.71L1803.23 1407.43L1815.76 1431L1829.29 1423.82L1798.45 1365.81L1942.08 1289.43L1954.76 1313.27L1962.72 1309.03L1885.26 1163.35L1891 1160.3L1887.24 1153.23L1881.5 1156.27L1862.72 1120.96L1861.23 1121.74L1718.25 1121.74ZM1798.24 1130.76L1798.24 1154.49L1771.76 1154.49L1771.76 1130.76ZM1870.03 1500.44L1856.51 1507.63L1858.24 1510.9L1808.81 1537.18L1807.54 1534.8L1799.59 1539.03L1808.74 1556.26L2389.47 1247.49L2365.76 1202.88L2351.62 1210.4L2367.44 1240.15L2214.53 1321.46L2172.65 1242.7L2166.9 1245.76L2168.77 1249.29L2134.35 1267.59L2136.47 1271.59L2170.89 1253.28L2208.77 1324.52L2115.2 1374.27L2076.38 1301.27L2100.21 1288.6L2097.39 1283.28L1976.42 1347.6L1993.1 1378.96L1997.52 1376.6L1983.67 1350.56L2057.38 1311.37L2096.2 1384.37L2022.49 1423.57L2013.46 1406.62L2009.04 1408.98L2018.05 1425.92L1871.77 1503.7ZM2109.44 1377.33L2101.95 1381.31L2063.14 1308.31L2070.62 1304.33ZM1948.74 762.51L1951.24 762.51L1951.25 770.51L1987.49 770.51L1987.49 938.24L1951.25 938.24L1951.24 943L1992.5 943.01L1992.51 835.01L2003.01 835L2003.01 754.5L1948.75 754.49ZM2040.49 764.51L2058.75 764.51L2058.76 755L2040.5 754.99ZM2090 819.49L2090 835.01L2152.02 835.01L2168.58 866.15L2182.72 858.63L2154.26 805.11L2140.12 812.63L2143.77 819.49ZM2186.13 899.16L2193.18 912.42L2196.09 910.87L2197.51 913.52L2208.73 907.55L2198.96 889.17L2187.73 895.13L2189.04 897.61ZM2309.79 1131.74L2323.94 1124.22L2295.05 1069.91L2280.92 1077.43L2303.03 1119.01L2144.81 1203.15L2149.04 1211.1L2153.9 1208.51L2152.27 1205.42L2305.62 1123.89ZM2326.03 1162.28L2333.79 1176.86L2336.7 1175.31L2337.97 1177.69L2349.19 1171.73L2338.91 1152.38L2327.68 1158.34L2328.94 1160.73Z"/>
<path class="w" fill-rule="evenodd" d="M1869.68 1501.59L1857.66 1507.98L1859.39 1511.25L1808.46 1538.33L1807.19 1535.95L1800.74 1539.38L1809.09 1555.11L2388.32 1247.14L2365.41 1204.03L2352.77 1210.75L2368.59 1240.5L2214.18 1322.61L2172.3 1243.85L2168.05 1246.11L2169.92 1249.64L2135.49 1267.95L2136.82 1270.44L2171.25 1252.13L2209.92 1324.87L2114.84 1375.42L2075.23 1300.92L2099.06 1288.25L2097.04 1284.43L1977.57 1347.95L1993.45 1377.81L1996.37 1376.25L1982.52 1350.21L2057.73 1310.22L2097.34 1384.73L2022.14 1424.71L2013.11 1407.77L2010.19 1409.33L2019.2 1426.27L1871.42 1504.85ZM2110.59 1377.68L2101.6 1382.46L2061.99 1307.96L2070.98 1303.18ZM2327.18 1162.63L2334.14 1175.71L2337.05 1174.17L2338.32 1176.55L2348.04 1171.37L2338.55 1153.53L2328.83 1158.69L2330.09 1161.08ZM2310.14 1130.59L2322.79 1123.87L2294.7 1071.06L2282.07 1077.78L2304.17 1119.36L2145.96 1203.5L2149.39 1209.95L2152.76 1208.16L2151.12 1205.07L2305.97 1122.74ZM1904.57 1050.92L1944.72 1126.44L1932.37 1133.02L1936.04 1139.92L1963.85 1125.13L1980.05 1155.59L2009.62 1139.87L2063.7 1241.57L2008.08 1271.14L2011.04 1276.72L2094.31 1232.44L2091.34 1226.86L2067.95 1239.3L1997.68 1107.14L2231.56 982.79L2240.1 998.85L2252.74 992.13L2224.09 938.26L2211.46 944.99L2227.89 975.88L2065.09 1062.45L2033.4 1002.85L2029.59 1004.87L2061.27 1064.47L2043.01 1074.18L2005.68 1003.98L2002.41 1005.74L2039.73 1075.93L1951.63 1122.77L1912.76 1049.66L1914.15 1049.66L1914.16 999.16L1937.9 999.16L1937.9 995.84L1911.34 995.84L1911.34 1042.09L1902.09 1042.1L1902.09 1049.66L1906.66 1049.67ZM2008.3 1137.38L1981.65 1151.55L1966.78 1123.57L1993.43 1109.41ZM1974.1 1003.66L2028.95 1003.67L2029.16 1004.06L2029.16 995.84L1974.1 995.84ZM2187.28 899.51L2193.53 911.27L2196.44 909.72L2197.86 912.37L2207.58 907.2L2198.61 890.32L2188.88 895.49L2190.19 897.96ZM2090.85 820.34L2090.85 834.16L2152.53 834.16L2168.93 865L2181.57 858.28L2153.91 806.26L2141.27 812.98L2145.18 820.34ZM2041.34 763.66L2057.91 763.66L2057.91 755.85L2041.35 755.84ZM1949.59 761.66L1952.09 761.66L1952.1 769.66L1988.34 769.66L1988.34 939.09L1952.1 939.09L1952.09 942.15L1991.65 942.16L1991.66 834.16L2002.16 834.15L2002.16 755.35L1949.6 755.34ZM1719.09 1129.91L1767.84 1129.91L1767.84 1158.66L1799.09 1158.66L1799.1 1162.91L1802.16 1162.9L1802.16 1129.91L1858.23 1129.91L1904.96 1217.81L1834.32 1255.37L1835.66 1257.85L1906.29 1220.3L1938.06 1280.05L1790.82 1358.34L1756.34 1358.34L1756.34 1372.16L1785.44 1372.16L1801.08 1401.59L1750.15 1428.67L1745.93 1420.72L1739.47 1424.15L1759.57 1461.96L1766.03 1458.52L1752.65 1433.36L1803.58 1406.28L1816.11 1429.85L1828.14 1423.46L1797.3 1365.45L1942.43 1288.28L1955.11 1312.12L1961.57 1308.68L1884.11 1163L1889.85 1159.95L1886.89 1154.38L1881.14 1157.42L1862.37 1122.1L1861.44 1122.59L1719.1 1122.59ZM1799.09 1129.91L1799.09 1155.34L1770.91 1155.34L1770.91 1129.91ZM1833.41 1255.84L1802.16 1255.84L1802.16 1199.6L1798.34 1199.59L1798.34 1202.59L1790.34 1202.59L1790.34 1205.91L1798.34 1205.91L1798.34 1307.91L1802.16 1307.9L1802.16 1258.66L1833.41 1258.66ZM1794.59 761.66L1797.09 761.66L1797.09 769.66L1811.34 769.66L1811.34 960.84L1672.41 960.84L1672.41 928.35L1668.85 928.34L1668.84 964.15L1811.34 964.16L1811.34 1026.34L1668.85 1026.34L1668.84 1035.34L1665.84 1035.35L1665.85 1049.66L1851.65 1049.66L1851.65 1042.09L1819.16 1042.09L1819.16 942.16L1911.16 942.15L1911.15 939.09L1819.16 939.09L1819.16 769.66L1857.15 769.66L1857.16 761.66L1859.66 761.65L1859.66 755.35L1794.6 755.34ZM1811.34 1033.66L1811.34 1046.59L1676.66 1046.59L1676.66 1033.66ZM1740.34 761.66L1742.84 761.66L1742.85 769.66L1756.65 769.66L1756.66 761.66L1759.16 761.65L1759.16 755.35L1740.35 755.34ZM1625.84 1428.66L1658.32 1428.66L1658.33 1429.16L1668.66 1429.15L1668.66 1358.35L1652.91 1358.34L1652.91 1205.91L1750.4 1205.91L1750.4 1202.59L1649.09 1202.6L1649.09 1414.59L1625.84 1414.59ZM1637.84 761.66L1640.34 761.66L1640.35 769.66L1668.84 769.66L1668.84 887.9L1672.4 887.91L1672.41 769.66L1702.91 769.66L1702.91 761.66L1705.41 761.65L1705.41 755.35L1637.85 755.34ZM1460.83 1159.16L1498.34 1159.16L1498.34 1414.09L1470.33 1414.09L1470.32 1414.59L1467.1 1414.59L1467.09 1428.65L1534.15 1428.66L1534.16 1423.34L1531.66 1423.34L1531.66 1414.09L1505.91 1414.09L1505.91 1129.91L1612.59 1129.91L1612.59 1158.66L1651.65 1158.66L1651.66 1129.91L1667.91 1129.91L1667.91 1122.6L1473.34 1122.59L1473.34 1151.34L1451.35 1151.34L1451.34 1158.65L1460.82 1158.66ZM1649.09 1129.91L1649.09 1155.34L1615.41 1155.34L1615.41 1129.91ZM1498.34 1129.91L1498.34 1151.34L1476.16 1151.34L1476.16 1129.91ZM1482.34 761.66L1484.84 761.66L1484.85 769.66L1513.09 769.66L1513.09 910.34L1420.35 910.34L1420.34 962.9L1423.16 962.9L1423.16 937.91L1513.09 937.91L1513.09 1042.09L1423.16 1042.09L1423.16 1003.35L1420.35 1003.34L1420.34 1042.09L1418.09 1042.1L1418.09 1049.65L1614.65 1049.66L1614.66 1042.09L1611.16 1042.09L1611.15 1003.34L1608.34 1003.35L1608.34 1042.09L1521.16 1042.09L1521.16 937.91L1608.34 937.91L1608.34 962.9L1611.15 962.91L1611.16 910.35L1521.16 910.34L1521.16 769.66L1545.66 769.66L1545.66 755.35L1482.35 755.34ZM1521.16 934.59L1521.16 914.16L1608.34 914.16L1608.34 934.59ZM1513.09 934.59L1423.16 934.59L1423.16 914.16L1513.09 914.16ZM1428.59 761.66L1431.59 761.66L1431.6 769.66L1444.9 769.66L1444.91 761.66L1447.66 761.65L1447.66 755.35L1428.6 755.34ZM1429.66 1414.1L1415.84 1414.09L1415.84 1423.34L1413.34 1423.34L1413.34 1428.66L1432.16 1428.66L1432.16 1423.34L1429.66 1423.34ZM1291.16 1122.6L1185.09 1122.6L1185.1 1166.66L1188.41 1166.65L1188.41 1129.66L1272.09 1129.66L1272.09 1245.84L1188.41 1245.84L1188.41 1208.85L1185.09 1208.85L1185.1 1248.66L1264.59 1248.66L1264.59 1414.09L1235.84 1414.09L1235.84 1423.34L1233.34 1423.34L1233.35 1428.66L1323.41 1428.65L1323.41 1423.34L1320.91 1423.34L1320.9 1414.09L1272.16 1414.09L1272.16 1304.16L1392.41 1304.15L1392.41 1158.66L1399.91 1158.66L1399.9 1151.34L1369.59 1151.35L1369.59 1159.16L1384.09 1159.16L1384.09 1283.84L1302.41 1283.84L1302.41 1159.16L1317.91 1159.16L1317.91 1151.35L1293.34 1151.34L1293.34 1297.09L1291.16 1297.09ZM1267.91 1297.09L1267.91 1249.16L1287.84 1249.16L1287.84 1297.09ZM1275.41 1245.84L1275.41 1129.66L1287.84 1129.66L1287.84 1245.84ZM1393.15 761.66L1393.15 755.34L1328.59 755.35L1328.6 769.66L1357.34 769.66L1357.35 926.66L1360.66 926.65L1360.66 769.66L1390.65 769.66L1390.66 761.66ZM1033.09 970.91L1061.09 970.91L1061.09 1042.09L1033.1 1042.09L1033.1 1049.66L1366.91 1049.65L1366.9 1042.09L1334.41 1042.09L1334.41 974.16L1360.15 974.16L1360.15 970.34L1331.09 970.35L1331.09 1042.09L1216.91 1042.09L1216.91 769.66L1234.41 769.66L1234.41 761.66L1236.91 761.65L1236.9 755.34L1170.59 755.35L1170.59 761.65L1173.09 761.66L1173.1 769.66L1209.09 769.66L1209.09 1026.34L1064.41 1026.34L1064.41 967.09L1033.1 967.09ZM1209.09 1046.59L1133.91 1046.59L1133.91 1033.66L1209.09 1033.66ZM1131.09 1029.66L1131.09 1042.09L1064.41 1042.09L1064.41 1029.66ZM1131.66 1253.35L1128.34 1253.35L1128.34 1414.09L1098.34 1414.09L1098.34 1423.34L1095.84 1423.34L1095.84 1428.65L1171.65 1428.66L1171.65 1414.09L1131.66 1414.09ZM1116.09 761.66L1119.09 761.66L1119.1 769.66L1132.65 769.66L1132.66 761.66L1135.66 761.65L1135.66 755.35L1116.1 755.34ZM958.85 1122.59L958.85 1129.66L989.59 1129.66L989.59 1271.34L890.35 1271.34L890.34 1274.65L989.59 1274.66L989.59 1414.09L937.1 1414.09L937.09 1423.34L934.59 1423.34L934.59 1428.65L1006.65 1428.66L1006.66 1414.09L996.66 1414.09L996.66 1205.91L1016.65 1205.91L1016.66 1202.1L996.66 1202.09L996.66 1146.16L1100.84 1146.16L1100.84 1202.09L1080.85 1202.09L1080.84 1205.9L1128.34 1205.91L1128.34 1211.66L1131.65 1211.66L1131.65 1202.09L1104.16 1202.09L1104.16 1129.66L1134.15 1129.66L1134.16 1122.6ZM996.66 1125.41L1097.09 1125.41L1097.09 1138.34L996.66 1138.34ZM1017.09 769.66L1054.84 769.66L1054.84 914.59L1026.1 914.59L1026.09 917.9L1058.65 917.91L1058.66 769.66L1078.66 769.66L1078.66 761.66L1081.91 761.65L1081.91 755.35L1017.1 755.34ZM1057.91 1414.1L1044.59 1414.09L1044.59 1423.34L1041.34 1423.34L1041.34 1428.66L1060.41 1428.66L1060.41 1423.34L1057.91 1423.34ZM772.09 911.66L774.91 911.66L774.91 905.66L885.34 905.66L885.34 988.34L774.91 988.34L774.91 950.85L772.09 950.84L772.09 1050.66L803.16 1050.65L803.15 1047.09L774.91 1047.09L774.91 991.66L859.09 991.66L859.09 1047.09L840.35 1047.09L840.35 1050.66L885.34 1050.66L885.34 1054.16L892.9 1054.16L892.91 1049.16L982.16 1049.16L982.16 1042.09L981.16 1042.08L981.15 998.84L977.09 998.85L977.09 1025.84L892.91 1025.84L892.91 918.66L977.09 918.66L977.09 957.15L981.16 957.15L981.16 918.66L984.16 918.66L984.16 914.59L892.91 914.59L892.91 769.66L922.16 769.66L922.16 761.66L924.66 761.65L924.66 755.34L859.34 755.35L859.34 761.65L861.34 761.66L861.34 769.66L885.34 769.66L885.34 900.84L765.84 900.84L765.84 905.66L772.09 905.66ZM892.91 1029.16L977.09 1029.16L977.09 1042.09L892.91 1042.09ZM885.34 1047.09L862.41 1047.09L862.41 1016.66L885.34 1016.66ZM885.34 1014.84L873.66 1014.84L873.66 991.66L885.34 991.66ZM862.41 1014.84L862.41 991.66L870.84 991.66L870.84 1014.84ZM810.91 1103.35L772.09 1103.34L772.09 1131.34L505.16 1131.34L505.16 1099.6L490.85 1099.59L490.84 1190.4L505.16 1190.4L505.16 1139.16L647.09 1139.16L647.09 1224.16L704.15 1224.16L704.15 1221.34L665.66 1221.34L665.66 1139.16L775.34 1139.16L775.34 1221.34L744.6 1221.34L744.59 1224.15L801.15 1224.16L801.15 1221.34L778.66 1221.34L778.66 1194.16L799.66 1194.15L799.66 1139.16L854.59 1139.16L854.59 1221.34L837.1 1221.34L837.09 1224.15L857.9 1224.16L857.91 1139.16L892.9 1139.16L892.91 1129.66L907.91 1129.66L907.91 1122.6L892.91 1122.59L892.91 1104.59L885.35 1104.59L885.34 1131.34L810.91 1131.34ZM773.41 1131.34L773.41 1107.91L807.84 1107.91L807.84 1131.34ZM796.34 1191.34L778.66 1191.34L778.66 1139.16L796.34 1139.16ZM662.84 1221.34L649.91 1221.34L649.91 1139.16L662.84 1139.16ZM762.84 1274.66L813.84 1274.66L813.84 1414.09L798.84 1414.09L798.84 1423.34L796.34 1423.34L796.34 1428.66L871.66 1428.66L871.65 1414.09L817.16 1414.09L817.16 1274.66L849.15 1274.66L849.16 1271.34L762.85 1271.34ZM804.34 761.66L807.09 761.66L807.1 769.66L820.65 769.66L820.66 761.66L823.66 761.65L823.66 755.35L804.35 755.34ZM703.34 761.66L705.84 761.66L705.84 769.66L712.84 769.66L712.84 906.65L716.65 906.66L716.66 904.66L724.91 904.65L724.91 900.84L716.66 900.84L716.66 769.66L766.65 769.66L766.66 761.66L769.66 761.65L769.66 755.35L703.35 755.34ZM758.66 1414.1L744.59 1414.09L744.59 1423.34L742.09 1423.34L742.09 1428.66L761.16 1428.66L761.16 1423.34L758.66 1423.34ZM722.16 1274.66L722.15 1271.34L647.09 1271.34L647.09 1414.09L629.59 1414.09L629.59 1423.34L627.09 1423.34L627.09 1428.66L707.16 1428.66L707.16 1423.34L704.91 1423.34L704.9 1414.09L654.91 1414.09L654.91 1274.66ZM564.66 880.85L550.09 880.85L550.09 938.34L498.66 938.34L498.66 918.85L490.84 918.85L490.85 1009.16L505.16 1009.15L505.16 957.66L716.66 957.65L716.65 946.34L712.84 946.34L712.84 949.84L564.66 949.84ZM614.16 761.66L614.15 755.34L550.1 755.34L550.09 792.65L564.66 792.66L564.66 769.66L611.65 769.66L611.66 761.66ZM490.84 1428.66L535.41 1428.65L535.4 1414.09L505.16 1414.09L505.15 1283.34L490.84 1283.35ZM505.16 1242.91L505.16 1230.84L496.17 1230.84L496.16 1229.59L490.84 1229.59L490.84 1244.16L496.16 1244.16L496.17 1242.91ZM490.84 879.66L498.66 879.65L498.65 865.09L490.84 865.09Z"/>
<g id="L-hatch">
<rect class="h" x="566" y="763" width="46" height="7"/>
<rect class="h" x="705.5" y="763" width="61.5" height="7"/>
<rect class="h" x="806.75" y="763" width="14.25" height="7"/>
<rect class="h" x="885" y="844.5" width="8.25" height="55"/>
<rect class="h" x="661.75" y="949.5" width="55.25" height="8.5"/>
<rect class="h" x="556.75" y="903" width="8.25" height="55"/>
<rect class="h" x="1016.75" y="763" width="6.75" height="7"/>
<rect class="h" x="1024.5" y="763" width="54.5" height="7"/>
<rect class="h" x="1118.75" y="763" width="14.25" height="7"/>
<rect class="h" x="1328.25" y="763" width="62.75" height="7"/>
<rect class="h" x="1431.25" y="763" width="14" height="7"/>
<rect class="h" x="1208.75" y="844.5" width="8.5" height="55.5"/>
<rect class="h" x="1512.75" y="844.5" width="8.75" height="55.5"/>
<rect class="h" x="1032.75" y="1041.75" width="54.5" height="8.25"/>
<rect class="h" x="1312" y="1041.75" width="55.25" height="8.25"/>
<rect class="h" x="1640" y="763" width="63.25" height="7"/>
<rect class="h" x="1742.5" y="763" width="14.5" height="7"/>
<rect class="h" x="1951.75" y="763" width="44" height="7"/>
<rect class="h" x="1811" y="771" width="8.5" height="54.75"/>
<rect class="h" x="1811" y="938" width="8.5" height="54"/>
<rect class="h" x="1668.5" y="1026" width="55.25" height="8"/>
<rect class="h" x="1973.75" y="995.5" width="55.75" height="8.5"/>
<rect class="h" x="497.5" y="1230.5" width="8" height="12.75"/>
<rect class="h" x="497.5" y="1358.5" width="8" height="54.25"/>
<rect class="h" x="629.25" y="1413.75" width="76" height="8.25"/>
<rect class="h" x="744.25" y="1413.75" width="14.75" height="8.25"/>
<rect class="h" x="936.75" y="1413.75" width="50.25" height="8.25"/>
<rect class="h" x="506.5" y="1131" width="54.25" height="8.5"/>
<rect class="h" x="805.5" y="1131" width="55.25" height="8.5"/>
<rect class="h" x="989.25" y="1173.75" width="7.75" height="55.25"/>
<rect class="h" x="646.75" y="1271" width="8.5" height="54.25"/>
<rect class="h" x="1049.75" y="1138" width="54.75" height="8.5"/>
<rect class="h" x="1293" y="1151" width="9.75" height="144.75"/>
<rect class="h" x="1383.75" y="1151" width="9" height="153.5"/>
<rect class="h" x="1293" y="1283.5" width="99.75" height="12.25"/>
<rect class="h" x="1293" y="1151" width="25.25" height="8.5"/>
<rect class="h" x="1369.25" y="1151" width="23.5" height="8.5"/>
<rect class="h" x="1264.25" y="1296.75" width="128.5" height="7.75"/>
<rect class="h" x="1264.25" y="1296.75" width="8.25" height="116"/>
<rect class="h" x="1498" y="1122.25" width="8.25" height="290.5"/>
<rect class="h" x="1044.25" y="1413.75" width="14" height="8.25"/>
<rect class="h" x="1098" y="1413.75" width="42" height="8.25"/>
<rect class="h" x="1264.25" y="1413.75" width="57" height="8.25"/>
<rect class="h" x="1415.5" y="1413.75" width="14.5" height="8.25"/>
<rect class="h" x="1470" y="1413.75" width="27" height="8.25"/>
<rect class="h" x="1718.75" y="1122.25" width="54.5" height="8"/>
<rect class="h" x="1648.75" y="1358" width="8.25" height="55.25"/>
<rect class="h" x="1466.75" y="1414.25" width="39.5" height="7.75"/>
<g transform="translate(1808.75 1556.25) rotate(-28)"><rect class="hw" x="81.5" y="-15.5" width="54" height="6.5"/></g>
<g transform="translate(1808.75 1556.25) rotate(-28)"><rect class="hw" x="197.5" y="-15.5" width="54.6" height="6.5"/></g>
<g transform="translate(1808.75 1556.25) rotate(-28)"><rect class="hw" x="469.2" y="-15.5" width="53.7" height="6.5"/></g>
<g transform="translate(1808.75 1556.25) rotate(-28)"><rect class="hw" x="587.5" y="-15.5" width="55" height="6.5"/></g>
<g transform="translate(1808.75 1556.25) rotate(-28)"><rect class="hw" x="642.2" y="-198.5" width="6.8" height="56"/></g>
<g transform="translate(1808.75 1556.25) rotate(-28)"><rect class="hw" x="81.5" y="-183.5" width="55" height="10"/></g>
<g transform="translate(1808.75 1556.25) rotate(-28)"><rect class="hw" x="243.5" y="-251.5" width="8" height="66"/></g>
<g transform="translate(1808.75 1556.25) rotate(-28)"><rect class="hw" x="457" y="-316" width="53.5" height="8.5"/></g>
<g transform="translate(1808.75 1556.25) rotate(-28)"><rect class="hw" x="588" y="-316" width="53.5" height="8.5"/></g>
<g transform="translate(1808.75 1556.25) rotate(-28)"><rect class="hw" x="309.5" y="-158.5" width="62" height="7"/></g>
<rect class="h" x="2090.5" y="827.5" width="61.5" height="7"/>
</g>
<g id="L-win">
<rect class="wo" x="615.3" y="754.8" width="86.9" height="15.4"/><path class="wl" d="M615 761.22H702.5M615 765.06H702.5M617.2 761.22V765.06M700.3 761.22V765.06"/>
<rect class="wo" x="770.8" y="754.8" width="32.4" height="15.4"/><path class="wl" d="M770.5 761.22H803.5M770.5 765.06H803.5M772.7 761.22V765.06M801.3 761.22V765.06"/>
<rect class="wo" x="824.8" y="754.8" width="33.4" height="15.4"/><path class="wl" d="M824.5 761.22H858.5M824.5 765.06H858.5M826.7 761.22V765.06M856.3 761.22V765.06"/>
<rect class="wo" x="1083.05" y="754.8" width="31.9" height="15.4"/><path class="wl" d="M1082.75 761.22H1115.25M1082.75 765.06H1115.25M1084.95 761.22V765.06M1113.05 761.22V765.06"/>
<rect class="wo" x="1136.8" y="754.8" width="32.65" height="15.4"/><path class="wl" d="M1136.5 761.22H1169.75M1136.5 765.06H1169.75M1138.7 761.22V765.06M1167.55 761.22V765.06"/>
<rect class="wo" x="1238.05" y="754.8" width="89.4" height="15.4"/><path class="wl" d="M1237.75 761.22H1327.75M1237.75 765.06H1327.75M1239.95 761.22V765.06M1325.55 761.22V765.06"/>
<rect class="wo" x="1394.3" y="754.8" width="33.15" height="15.4"/><path class="wl" d="M1394 761.22H1427.75M1394 765.06H1427.75M1396.2 761.22V765.06M1425.55 761.22V765.06"/>
<rect class="wo" x="1448.8" y="754.8" width="32.4" height="15.4"/><path class="wl" d="M1448.5 761.22H1481.5M1448.5 765.06H1481.5M1450.7 761.22V765.06M1479.3 761.22V765.06"/>
<rect class="wo" x="1546.55" y="754.8" width="90.15" height="15.4"/><path class="wl" d="M1546.25 761.22H1637M1546.25 765.06H1637M1548.45 761.22V765.06M1634.8 761.22V765.06"/>
<rect class="wo" x="1706.55" y="754.8" width="32.65" height="15.4"/><path class="wl" d="M1706.25 761.22H1739.5M1706.25 765.06H1739.5M1708.45 761.22V765.06M1737.3 761.22V765.06"/>
<rect class="wo" x="1760.3" y="754.8" width="33.15" height="15.4"/><path class="wl" d="M1760 761.22H1793.75M1760 765.06H1793.75M1762.2 761.22V765.06M1791.55 761.22V765.06"/>
<rect class="wo" x="1860.8" y="754.8" width="87.65" height="15.4"/><path class="wl" d="M1860.5 761.22H1948.75M1860.5 765.06H1948.75M1862.7 761.22V765.06M1946.55 761.22V765.06"/>
<rect class="wo" x="490.3" y="1010.3" width="15.4" height="88.15"/><path class="wl" d="M495.76 1010V1098.75M499.6 1010V1098.75M495.76 1012.2H499.6M495.76 1096.55H499.6"/>
<rect class="wo" x="490.3" y="1191.55" width="15.4" height="36.9"/><path class="wl" d="M495.76 1191.25V1228.75M499.6 1191.25V1228.75M495.76 1193.45H499.6M495.76 1226.55H499.6"/>
<rect class="wo" x="490.3" y="1245.3" width="15.4" height="36.9"/><path class="wl" d="M495.76 1245V1282.5M499.6 1245V1282.5M495.76 1247.2H499.6M495.76 1280.3H499.6"/>
<rect class="wo" x="536.55" y="1413.55" width="91.9" height="15.65"/><path class="wl" d="M536.25 1419.1H628.75M536.25 1423H628.75M538.45 1419.1V1423M626.55 1419.1V1423"/>
<rect class="wo" x="708.3" y="1413.55" width="32.65" height="15.65"/><path class="wl" d="M708 1419.1H741.25M708 1423H741.25M710.2 1419.1V1423M739.05 1419.1V1423"/>
<rect class="wo" x="762.3" y="1413.55" width="32.9" height="15.65"/><path class="wl" d="M762 1419.1H795.5M762 1423H795.5M764.2 1419.1V1423M793.3 1419.1V1423"/>
<rect class="wo" x="872.8" y="1413.55" width="60.65" height="15.65"/><path class="wl" d="M872.5 1419.1H933.75M872.5 1423H933.75M874.7 1419.1V1423M931.55 1419.1V1423"/>
<rect class="wo" x="1007.8" y="1413.55" width="33.15" height="15.65"/><path class="wl" d="M1007.5 1419.1H1041.25M1007.5 1423H1041.25M1009.7 1419.1V1423M1039.05 1419.1V1423"/>
<rect class="wo" x="1061.55" y="1413.55" width="33.15" height="15.65"/><path class="wl" d="M1061.25 1419.1H1095M1061.25 1423H1095M1063.45 1419.1V1423M1092.8 1419.1V1423"/>
<rect class="wo" x="1172.8" y="1413.55" width="59.4" height="15.65"/><path class="wl" d="M1172.5 1419.1H1232.5M1172.5 1423H1232.5M1174.7 1419.1V1423M1230.3 1419.1V1423"/>
<rect class="wo" x="1324.55" y="1413.55" width="87.65" height="15.65"/><path class="wl" d="M1324.25 1419.1H1412.5M1324.25 1423H1412.5M1326.45 1419.1V1423M1410.3 1419.1V1423"/>
<rect class="wo" x="1433.3" y="1413.55" width="33.4" height="15.65"/><path class="wl" d="M1433 1419.1H1467M1433 1423H1467M1435.2 1419.1V1423M1464.8 1419.1V1423"/>
<rect class="wo" x="1669.8" y="1357.8" width="44.9" height="14.9"/><path class="wl" d="M1669.5 1363.08H1715M1669.5 1366.8H1715M1671.7 1363.08V1366.8M1712.8 1363.08V1366.8"/>
<rect class="wo" x="1532.8" y="1414.05" width="91.9" height="15.15"/><path class="wl" d="M1532.5 1419.42H1625M1532.5 1423.2H1625M1534.7 1419.42V1423.2M1622.8 1419.42V1423.2"/>
<rect class="wo" x="1669.8" y="1421.55" width="72.4" height="7.65"/><path class="wl" d="M1669.5 1424.22H1742.5M1669.5 1426.2H1742.5M1671.7 1424.22V1426.2M1740.3 1424.22V1426.2"/>
<g transform="translate(1808.75 1556.25) rotate(-28)"><rect class="wo" x="642" y="-440.1" width="15.4" height="34"/><path class="wl" d="M648.42 -440.4V-405.8M652.26 -440.4V-405.8M648.42 -438.2H652.26M648.42 -408H652.26"/></g>
<g transform="translate(1808.75 1556.25) rotate(-28)"><rect class="wo" x="642" y="-384.7" width="15.4" height="32.9"/><path class="wl" d="M648.42 -385V-351.5M652.26 -385V-351.5M648.42 -382.8H652.26M648.42 -353.7H652.26"/></g>
<g transform="translate(1808.75 1556.25) rotate(-28)"><rect class="wo" x="642" y="-288.5" width="15.4" height="87.1"/><path class="wl" d="M648.42 -288.8V-201.1M652.26 -288.8V-201.1M648.42 -286.6H652.26M648.42 -203.3H652.26"/></g>
<g transform="translate(1808.75 1556.25) rotate(-28)"><rect class="wo" x="642" y="-139.3" width="15.4" height="31.3"/><path class="wl" d="M648.42 -139.6V-107.7M652.26 -139.6V-107.7M648.42 -137.4H652.26M648.42 -109.9H652.26"/></g>
<g transform="translate(1808.75 1556.25) rotate(-28)"><rect class="wo" x="642" y="-85.5" width="15.4" height="34.7"/><path class="wl" d="M648.42 -85.8V-50.5M652.26 -85.8V-50.5M648.42 -83.6H652.26M648.42 -52.7H652.26"/></g>
<g transform="translate(1808.75 1556.25) rotate(-28)"><rect class="wo" x="648.8" y="-557" width="8.6" height="55.7"/><path class="wl" d="M652.36 -557.3V-501M654.57 -557.3V-501M652.36 -555.1H654.57M652.36 -503.2H654.57"/></g>
<g transform="translate(1808.75 1556.25) rotate(-28)"><rect class="wo" x="1.6" y="-105.2" width="6.3" height="85.4"/><path class="wl" d="M3.78 -105.5V-19.5M5.44 -105.5V-19.5M3.78 -103.3H5.44M3.78 -21.7H5.44"/></g>
<g transform="translate(1808.75 1556.25) rotate(-28)"><rect class="wo" x="64.9" y="-66.7" width="14" height="45.9"/><path class="wl" d="M69.86 -67V-20.5M73.36 -67V-20.5M69.86 -64.8H73.36M69.86 -22.7H73.36"/></g>
<rect class="wo" x="2044.8" y="819.8" width="44.9" height="14.9"/><path class="wl" d="M2044.5 826.01H2090M2044.5 829.73H2090M2046.7 826.01V829.73M2087.8 826.01V829.73"/>
<rect class="wo" x="2004.05" y="755.3" width="36.15" height="8.9"/><path class="wl" d="M2003.75 758.99H2040.5M2003.75 761.27H2040.5M2005.95 758.99V761.27M2038.3 758.99V761.27"/>
<rect class="wo" x="2059.05" y="755.3" width="66.9" height="8.9"/><path class="wl" d="M2058.75 758.99H2126.25M2058.75 761.27H2126.25M2060.95 758.99V761.27M2124.05 758.99V761.27"/>
<rect class="wo" x="490.3" y="754.8" width="58.65" height="9.15"/><path class="wl" d="M490 758.6H549.25M490 760.93H549.25M492.2 758.6V760.93M547.05 758.6V760.93"/>
<rect class="wo" x="490.3" y="764.55" width="9.4" height="99.4"/><path class="wl" d="M493.6 764.25V864.25M496 764.25V864.25M493.6 766.45H496M493.6 862.05H496"/>
<rect class="wo" x="490.3" y="880.8" width="9.4" height="36.9"/><path class="wl" d="M493.6 880.5V918M496 880.5V918M493.6 882.7H496M493.6 915.8H496"/>
<rect class="wn" x="549.25" y="834.25" width="16.25" height="45.75"/>
<rect class="wo" x="555.3" y="834.55" width="9.9" height="45.15"/><path class="wl" d="M558.78 834.25V880M561.3 834.25V880M558.78 836.45H561.3M558.78 877.8H561.3"/>
<rect class="wo" x="925.8" y="754.8" width="90.15" height="15.4"/><path class="wl" d="M925.5 761.22H1016.25M925.5 765.06H1016.25M927.7 761.22V765.06M1014.05 761.22V765.06"/>
</g>
<g id="L-door">
<path class="t" d="M556.25 795L584 822.75A39.25 39.25 0 0 1 556.25 834.25"/>
<path class="t" d="M715 947.5L687.07 919.57A39.5 39.5 0 0 1 715 908"/>
<path class="t" d="M724.5 901.25L752.25 873.5A39.25 39.25 0 0 1 763.75 901.25"/>
<path class="t" d="M773 951.25L745.6 923.85A38.75 38.75 0 0 1 773 912.5"/>
<path class="t" d="M839.5 1050.75L814.75 1075.5A35 35 0 0 1 804.5 1050.75"/>
<path class="t" d="M979.25 998L1007 970.25A39.25 39.25 0 0 0 979.25 958.75"/>
<path class="t" d="M890 1055.5L923.23 1088.73A47 47 0 0 1 890 1102.5"/>
<path class="t" d="M1327 765L1297.48 794.52A41.75 41.75 0 0 1 1285.25 765"/>
<path class="t" d="M1359 967L1330.19 938.19A40.75 40.75 0 0 1 1359 926.25"/>
<path class="t" d="M1422 1002.5L1394.95 975.45A38.25 38.25 0 0 1 1422 964.25"/>
<path class="t" d="M1368.5 1050.5L1402.09 1084.09A47.5 47.5 0 0 0 1416 1050.5"/>
<path class="t" d="M1610 1002.5L1637.05 975.45A38.25 38.25 0 0 0 1610 964.25"/>
<path class="t" d="M1547.5 765L1577.02 794.52A41.75 41.75 0 0 0 1589.25 765"/>
<path class="t" d="M1670.5 927.5L1697.55 900.45A38.25 38.25 0 0 0 1670.5 889.25"/>
<path class="t" d="M1663.75 1050.5L1630.16 1084.09A47.5 47.5 0 0 1 1616.25 1050.5"/>
<path class="t" d="M1951.25 940.75L1923.5 913A39.25 39.25 0 0 0 1912 940.75"/>
<path class="t" d="M1938.75 995.5L1962.61 971.64A33.75 33.75 0 0 1 1972.5 995.5"/>
<path class="t" d="M1901.25 1050.5L1867.13 1084.62A48.25 48.25 0 0 1 1853 1050.5"/>
<path class="t" d="M2004.5 830.5L2031.72 857.72A38.5 38.5 0 0 0 2043 830.5"/>
<path class="t" d="M705 1225L732.4 1252.4A38.75 38.75 0 0 0 743.75 1225"/>
<path class="t" d="M802 1225L826.22 1249.22A34.25 34.25 0 0 0 836.25 1225"/>
<path class="t" d="M762 1275.5L734.42 1303.08A39 39 0 0 1 723 1275.5"/>
<path class="t" d="M850 1275.5L877.93 1303.43A39.5 39.5 0 0 0 889.5 1275.5"/>
<path class="t" d="M873 1420L900.58 1392.42A39 39 0 0 1 912 1420"/>
<path class="t" d="M908.75 1121.75L942.87 1087.63A48.25 48.25 0 0 1 957 1121.75"/>
<rect class="st" x="1307" y="1165" width="73" height="113.75"/>
<path class="st" d="M1307 1165L1380 1278.75"/>
<path class="st" d="M1380 1165L1307 1278.75"/>
<path class="t" d="M1136.25 1122.5L1169.84 1088.91A47.5 47.5 0 0 1 1183.75 1122.5"/>
<path class="t" d="M1130 1212.5L1102.07 1240.43A39.5 39.5 0 0 0 1130 1252"/>
<path class="t" d="M1187 1168L1159.07 1195.93A39.5 39.5 0 0 0 1187 1207.5"/>
<path class="t" d="M1401.25 1157.5L1435.19 1191.44A48 48 0 0 0 1449.25 1157.5"/>
<path class="t" d="M1172.5 1420L1199.9 1392.6A38.75 38.75 0 0 1 1211.25 1420"/>
<rect class="st" x="1322.5" y="1304.5" width="124.25" height="46"/>
<path class="st" d="M1336.75 1304.5L1336.75 1350.5"/>
<path class="st" d="M1363.75 1304.5L1363.75 1323.75"/>
<path class="st" d="M1377.5 1304.5L1377.5 1329.25"/>
<path class="st" d="M1391.25 1304.5L1391.25 1350.5"/>
<path class="st" d="M1405 1304.5L1405 1350.5"/>
<path class="st" d="M1418.75 1304.5L1418.75 1350.5"/>
<path class="st" d="M1432.5 1304.5L1432.5 1350.5"/>
<path class="st" d="M1322.5 1327.5L1336.75 1327.5"/>
<path class="st" d="M1391.25 1327.5L1446.75 1327.5"/>
<path class="t" d="M1341.25 1305L1369.5 1329.25L1379.5 1329.25L1366.25 1335L1375 1335L1393.75 1350.5"/>
<path class="ab" d="M1323.25 1327.5L1333 1323.75L1333 1331.25Z"/>
<path class="ab" d="M1391.75 1327.5L1401.75 1323.75L1401.75 1331.25Z"/>
<circle class="ab" cx="1446.75" cy="1327.5" r="0.75"/>
<rect class="st" x="1322.5" y="1366.75" width="124.25" height="46.5"/>
<path class="st" d="M1336.75 1366.75L1336.75 1413.25"/>
<path class="st" d="M1350.5 1366.75L1350.5 1413.25"/>
<path class="st" d="M1363.75 1366.75L1363.75 1413.25"/>
<path class="st" d="M1377.5 1366.75L1377.5 1413.25"/>
<path class="st" d="M1391.25 1366.75L1391.25 1413.25"/>
<path class="st" d="M1405 1366.75L1405 1413.25"/>
<path class="st" d="M1418.75 1366.75L1418.75 1413.25"/>
<path class="st" d="M1432.5 1366.75L1432.5 1413.25"/>
<path class="st" d="M1322.5 1390L1446.75 1390"/>
<path class="ab" d="M1446 1390L1435.75 1385.75L1435.75 1394.25Z"/>
<circle class="ab" cx="1322.5" cy="1390" r="0.75"/>
<path class="t" d="M1800 1164.5L1776.31 1188.19A33.5 33.5 0 0 0 1800 1198"/>
<path class="t" d="M1790 1204.25L1762.6 1231.65A38.75 38.75 0 0 1 1751.25 1204.25"/>
<path class="t" d="M1717.5 1122.5L1683.56 1088.56A48 48 0 0 0 1669.5 1122.5"/>
<path class="t" d="M1755.5 1363.75L1727.75 1336A39.25 39.25 0 0 0 1716.25 1363.75"/>
<path class="t" d="M1823.65 1427.71L1861.42 1439.26A39.5 39.5 0 0 1 1842.19 1462.59"/>
<path class="t" d="M1888.81 1157.26L1903.43 1109.45A50 50 0 0 1 1932.96 1133.79"/>
<path class="t" d="M2012.5 1408L1978.56 1398.81A35.16 35.16 0 0 1 1995 1377.5"/>
<path class="t" d="M2150 1209.5L2188.01 1220.99A39.71 39.71 0 0 1 2168.75 1244.5"/>
<path class="t" d="M2100 1288.25L2111.49 1250.24A39.71 39.71 0 0 1 2135 1269.5"/>
<path class="t" d="M1960 1310.75L1947.27 1347.52A38.91 38.91 0 0 0 1977 1345.75"/>
<path class="t" d="M2011.25 1408.25L1978.19 1398.88A34.36 34.36 0 0 1 1994.5 1378.25"/>
<path class="t" d="M1015 765L985.3 794.7A42 42 0 0 1 973 765"/>
<path class="t" d="M1025 916L996.72 887.72A40 40 0 0 0 985 916"/>
<path class="t" d="M983 1050.5L1017.29 1084.79A48.5 48.5 0 0 0 1031.5 1050.5"/>
</g>
<g id="L-dash">
<path class="ds" d="M771.25 1051.5L771.25 1103.75"/>
<path class="ds" d="M1059 918.75L1059 966.25"/>
<path class="ds" d="M1217.75 969.5L1330.25 969.5"/>
<path class="ds" d="M1361.5 925.5L1419.5 925.5"/>
<path class="ds" d="M1612 934.25L1668 934.25"/>
<path class="ds" d="M1668 965L1668 1025.5"/>
<path class="ds" d="M1852.5 943L1852.5 1041.25"/>
<path class="ds" d="M1992.5 943L1992.5 995"/>
<path class="ds" d="M771.25 1050L771.25 1102.5"/>
<path class="ds" d="M646.25 1225L646.25 1270.5"/>
<path class="ds" d="M908.75 1130.5L908.75 1270.5"/>
<path class="ds" d="M858.75 1225L908.75 1225"/>
<path class="ds" d="M1017.5 1206.25L1080 1206.25"/>
<path class="ds" d="M1132.5 1249.5L1184.25 1249.5"/>
<path class="ds" d="M1652.5 1159.5L1652.5 1201.75"/>
<path class="ds" d="M1797.5 1308.75L1797.5 1357.5"/>
<path class="ds" d="M1937.45 1140.12L2006.93 1270.79"/>
<path class="ds" d="M1961.07 1305.94L2011.39 1279.18"/>
<path class="ds" d="M2095.45 1232.79L2146.66 1205.56"/>
</g>
<g id="L-text">
<text class="ar" x="1713.25" y="1173.25" text-anchor="middle" textLength="61" lengthAdjust="spacingAndGlyphs">4,3 м²</text>
<text class="ar" x="1818" y="1187" text-anchor="middle" textLength="56" lengthAdjust="spacingAndGlyphs">4,1 м²</text>
<text class="ar" x="1729.5" y="1289.5" text-anchor="middle" textLength="66" lengthAdjust="spacingAndGlyphs">10,1 м²</text>
<text class="ar" x="1579" y="1300.25" text-anchor="middle" textLength="69" lengthAdjust="spacingAndGlyphs">18,4 м²</text>
<text class="ar" x="1857.5" y="1287" text-anchor="middle" textLength="61" lengthAdjust="spacingAndGlyphs">4,4 м²</text>
<text class="ar" x="1728.25" y="1405" text-anchor="middle" textLength="112" lengthAdjust="spacingAndGlyphs">1,3/(2,6) м²</text>
</g>
<g id="L-top">
<rect x="287" y="262" width="439" height="101" rx="50.5" fill="#82c341"/>
<text x="505" y="327.3" text-anchor="middle" font-size="49" fill="#fff" textLength="341" lengthAdjust="spacingAndGlyphs">План 7 этажа</text>
<path class="ln" d="M1012.5 262.5H1927.5M1012.5 338.7H1927.5"/>
<text class="lbl" x="1440.3" y="313.8" text-anchor="middle" textLength="622" lengthAdjust="spacingAndGlyphs">Межквартальный проезд</text>
<path class="ln" d="M1012.5 1921.7H1927.5M1012.5 1997.8H1927.5"/>
<text class="lbl" x="1473.3" y="1973" text-anchor="middle" textLength="122.5" lengthAdjust="spacingAndGlyphs">Двор</text>
<path class="ln" d="M284.8 633.5V1548M361 633.5V1548"/>
<text class="lbl" transform="translate(335.7 1109.3) rotate(-90)" text-anchor="middle" textLength="121" lengthAdjust="spacingAndGlyphs">Двор</text>
<path class="ln" d="M2512.8 633.5V1548M2589.2 633.5V1548"/>
<text class="lbl" transform="translate(2564 1108) rotate(-90)" text-anchor="middle" textLength="221" lengthAdjust="spacingAndGlyphs">Секция 2</text>
<path d="M410.58 1989.94A164.4 164.4 0 1 1 501.19 1673.94" fill="none" stroke="#f0961e" stroke-width="2.6" stroke-dasharray="14.5 9.5" stroke-dashoffset="-6"/>
<path d="M501.19 1673.94A164.4 164.4 0 0 1 410.58 1989.94" fill="none" stroke="#cfcfcf" stroke-width="2.6" stroke-dasharray="14.5 9.5" stroke-dashoffset="-8"/>
<path d="M491.3 1660L501.3 1673.8L486.3 1682" fill="none" stroke="#f0961e" stroke-width="3"/>
<circle cx="411.8" cy="1985.5" r="29.5" fill="#e9e9e9"/>
<circle cx="411.8" cy="1985.5" r="8.8" fill="#f0961e"/>
<path d="M416.09 1975.15L418.69 1968.87M422.15 1981.21L428.43 1978.61M422.15 1989.79L428.43 1992.39M416.09 1995.85L418.69 2002.13M407.51 1995.85L404.91 2002.13M401.45 1989.79L395.17 1992.39M401.45 1981.21L395.17 1978.61M407.51 1975.15L404.91 1968.87" stroke="#f0961e" stroke-width="1.6" fill="none"/>
<circle cx="460" cy="1830" r="66.2" fill="none" stroke="#1d1d1b" stroke-width="2.3"/>
<path d="M460 1830L522.5 1846.3" stroke="#1d1d1b" stroke-width="2.3" fill="none"/>
<text class="cp" transform="translate(476.8 1735) rotate(14)" text-anchor="middle" y="12.5">З</text>
<text class="cp" transform="translate(362.5 1802.5) rotate(14)" text-anchor="middle" y="12.5">Ю</text>
<text class="cp" transform="translate(553.8 1850) rotate(14)" text-anchor="middle" y="12.5">С</text>
<text class="cp" transform="translate(436.3 1916.3) rotate(14)" text-anchor="middle" y="12.5">В</text>
</g>
</svg></body></html>
